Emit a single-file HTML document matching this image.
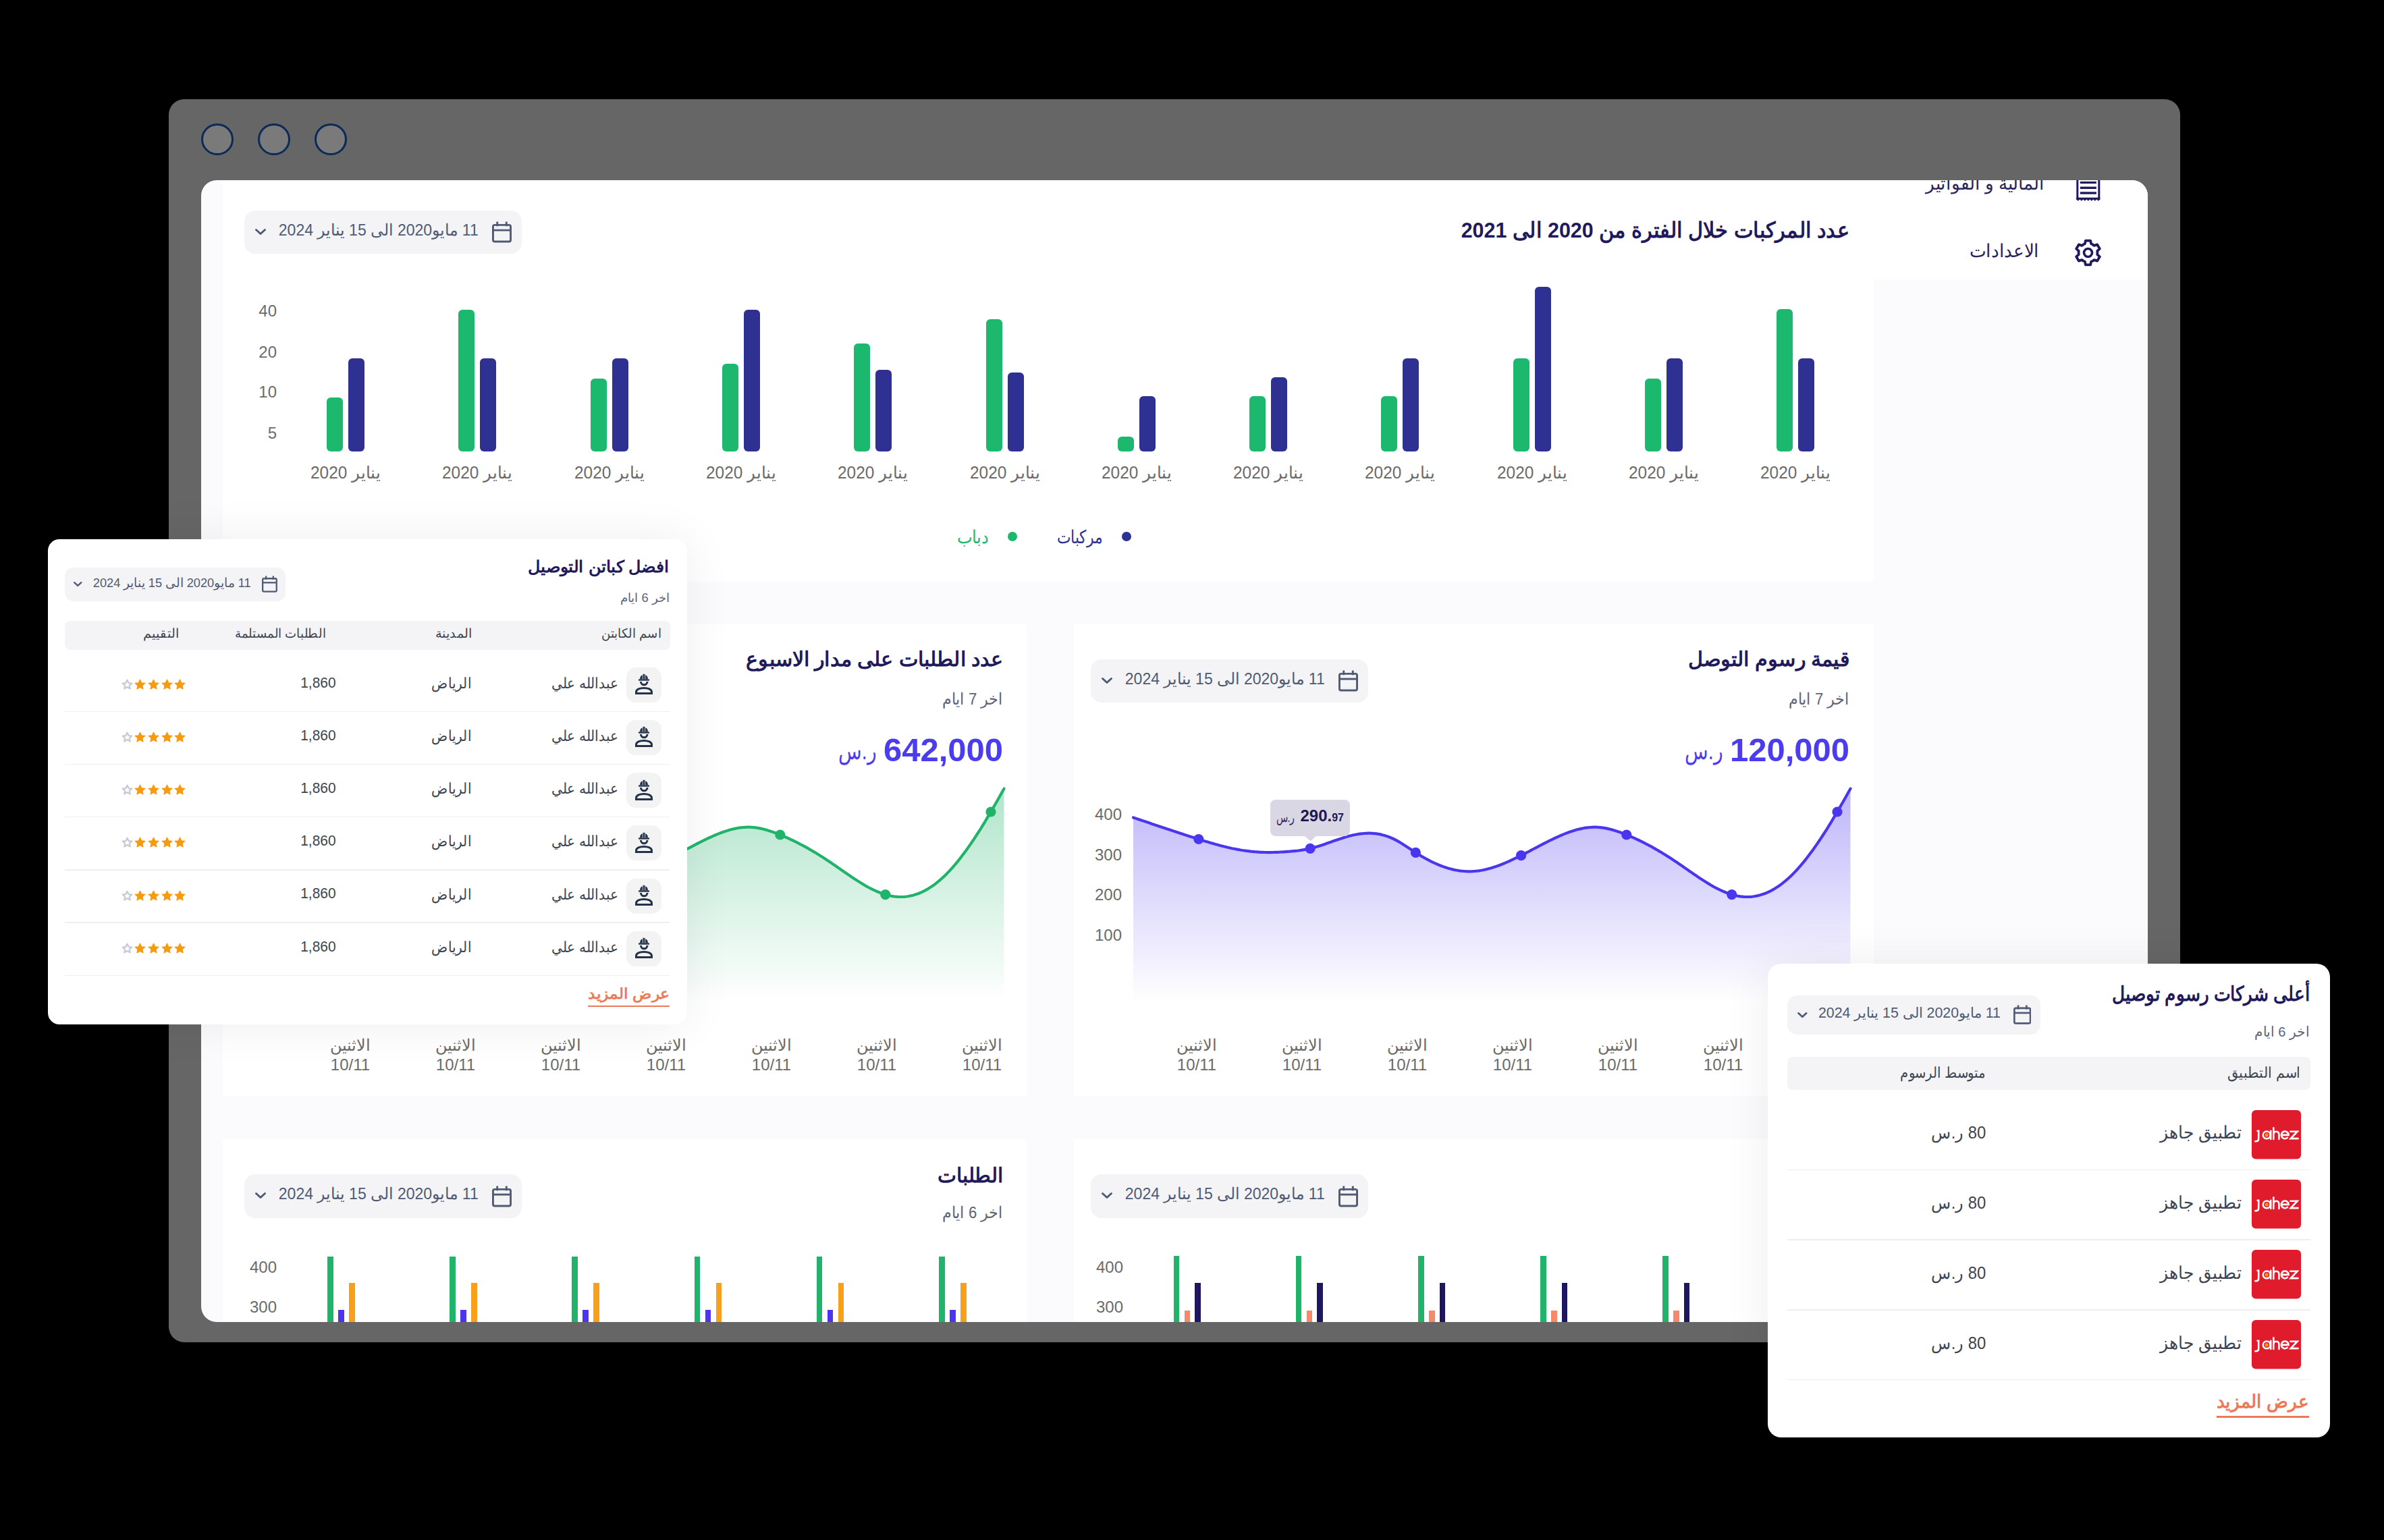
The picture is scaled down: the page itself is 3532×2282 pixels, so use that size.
<!DOCTYPE html><html><head><meta charset="utf-8"><style>html,body{margin:0;padding:0}body{width:3532px;height:2282px;background:#000;position:relative;overflow:hidden;font-family:'Liberation Sans', sans-serif}.t{position:absolute;white-space:nowrap;direction:rtl;unicode-bidi:plaintext}</style></head><body>
<div style="position:absolute;left:250.0px;top:147.0px;width:2980.0px;height:1842.0px;background:#666666;border-radius:23px;"></div>
<div style="position:absolute;left:298.2px;top:182.8px;width:41.6px;height:41.6px;border:3px solid #0b2a58;border-radius:50%;background:#7a7a7a"></div>
<div style="position:absolute;left:382.2px;top:182.8px;width:41.6px;height:41.6px;border:3px solid #0b2a58;border-radius:50%;background:#7a7a7a"></div>
<div style="position:absolute;left:466.2px;top:182.8px;width:41.6px;height:41.6px;border:3px solid #0b2a58;border-radius:50%;background:#7a7a7a"></div>
<div style="position:absolute;left:0;top:0;width:3532px;height:2282px;clip-path:inset(267px 350px 323px 298px round 23px);background:#fbfbfd">
<div style="position:absolute;left:2776.0px;top:267.0px;width:406.0px;height:147.0px;background:#ffffff;border-radius:0px;"></div>
<div style="position:absolute;left:330.0px;top:200.0px;width:2446.0px;height:662.0px;background:#ffffff;border-radius:0px;"></div>
<div style="position:absolute;left:330.0px;top:925.0px;width:1191.0px;height:699.0px;background:#ffffff;border-radius:0px;"></div>
<div style="position:absolute;left:1591.0px;top:925.0px;width:1185.0px;height:699.0px;background:#ffffff;border-radius:0px;"></div>
<div style="position:absolute;left:330.0px;top:1688.0px;width:1191.0px;height:412.0px;background:#ffffff;border-radius:0px;"></div>
<div style="position:absolute;left:1591.0px;top:1688.0px;width:1185.0px;height:412.0px;background:#ffffff;border-radius:0px;"></div>
<svg style="position:absolute;left:3074px;top:250px" width="40" height="50" viewBox="0 0 40 50"><rect x="2.3" y="0" width="3" height="46" fill="#1e1a5c"/><rect x="34.3" y="0" width="3" height="46" fill="#1e1a5c"/><path d="M2.3,42.8 H37.3 V45.6 L34.80,47.8 L32.30,45.6 L29.80,47.8 L27.30,45.6 L24.80,47.8 L22.30,45.6 L19.80,47.8 L17.30,45.6 L14.80,47.8 L12.30,45.6 L9.80,47.8 L7.30,45.6 L4.80,47.8 L2.30,45.6 Z" fill="#1e1a5c"/><rect x="7.8" y="18.9" width="24.1" height="3.2" fill="#1e1a5c"/><rect x="7.8" y="26.6" width="24.1" height="3.4" fill="#1e1a5c"/><rect x="7.8" y="34.3" width="24.1" height="3.4" fill="#1e1a5c"/></svg>
<div id="t1" class="t" style="right:503.0px;top:258.5px;font-size:27.0px;line-height:27.0px;color:#28245e;font-weight:normal;transform:scaleX(0.9723);transform-origin:right center;">المالية و الفواتير</div>
<svg style="position:absolute;left:3073px;top:354px" width="41" height="41" viewBox="0 0 41 41"><path d="M13.50,8.38 L15.83,7.30 L16.86,2.56 L24.14,2.56 L25.17,7.30 L27.50,8.38 L29.60,9.86 L34.21,8.38 L37.85,14.68 L34.26,17.94 L34.50,20.50 L34.26,23.06 L37.85,26.32 L34.21,32.62 L29.60,31.14 L27.50,32.62 L25.17,33.70 L24.14,38.44 L16.86,38.44 L15.83,33.70 L13.50,32.62 L11.40,31.14 L6.79,32.62 L3.15,26.32 L6.74,23.06 L6.50,20.50 L6.74,17.94 L3.15,14.68 L6.79,8.38 L11.40,9.86 Z" fill="none" stroke="#1e1a5c" stroke-width="3.8" stroke-linejoin="round"/><circle cx="20.5" cy="20.5" r="6" fill="none" stroke="#1e1a5c" stroke-width="3.6"/></svg>
<div id="t2" class="t" style="right:511.0px;top:358.5px;font-size:27.0px;line-height:27.0px;color:#28245e;font-weight:normal;transform:scaleX(0.9717);transform-origin:right center;">الاعدادات</div>
<div id="t3" class="t" style="right:792.0px;top:325.3px;font-size:32.0px;line-height:32.0px;color:#1e1a5c;font-weight:bold;transform:scaleX(0.9510);transform-origin:right center;">عدد المركبات خلال الفترة من 2020 الى 2021</div>
<div style="position:absolute;left:362.0px;top:312.0px;width:411.0px;height:64.0px;background:#f4f4f6;border-radius:16.0px;"></div>
<svg style="position:absolute;left:729.0px;top:328.0px" width="29.0" height="32.0" viewBox="0 0 30 32"><rect x="1.5" y="5" width="27" height="25.5" rx="2.5" fill="none" stroke="#4f5a75" stroke-width="3"/><line x1="1.5" y1="13" x2="28.5" y2="13" stroke="#4f5a75" stroke-width="3"/><line x1="8" y1="0" x2="8" y2="7" stroke="#4f5a75" stroke-width="3"/><line x1="22" y1="0" x2="22" y2="7" stroke="#4f5a75" stroke-width="3"/></svg>
<div id="t4" class="t" style="right:2823.5px;top:329.7px;font-size:23.5px;line-height:23.5px;color:#4f5a75;font-weight:normal;transform:scaleX(0.9809);transform-origin:right center;">11 مايو2020 الى 15 يناير 2024</div>
<svg style="position:absolute;left:378.0px;top:339.0px;overflow:visible" width="16.0" height="9.0" viewBox="0 0 16 9"><polyline points="1.5,1.5 8,7.5 14.5,1.5" fill="none" stroke="#4f5a75" stroke-width="3.0" stroke-linecap="round" stroke-linejoin="round"/></svg>
<div id="t5" class="t" style="right:3122.0px;top:449.4px;font-size:24.0px;line-height:24.0px;color:#6b6b6b;font-weight:normal;transform-origin:right center;">40</div>
<div id="t6" class="t" style="right:3122.0px;top:509.5px;font-size:24.0px;line-height:24.0px;color:#6b6b6b;font-weight:normal;transform-origin:right center;">20</div>
<div id="t7" class="t" style="right:3122.0px;top:569.4px;font-size:24.0px;line-height:24.0px;color:#6b6b6b;font-weight:normal;transform-origin:right center;">10</div>
<div id="t8" class="t" style="right:3122.0px;top:629.9px;font-size:24.0px;line-height:24.0px;color:#6b6b6b;font-weight:normal;transform-origin:right center;">5</div>
<div style="position:absolute;left:484.0px;top:588.6px;width:24.0px;height:80.4px;background:#1bb86e;border-radius:6px;"></div>
<div style="position:absolute;left:516.0px;top:531.4px;width:24.0px;height:137.6px;background:#2e3192;border-radius:6px;"></div>
<div id="t9" class="t" style="left:-488.0px;top:687.8px;font-size:25.0px;line-height:25.0px;color:#6b6b6b;font-weight:normal;width:2000px;text-align:center;transform:scaleX(0.9758);transform-origin:center center;"><span>يناير 2020</span></div>
<div style="position:absolute;left:679.3px;top:458.7px;width:24.0px;height:210.3px;background:#1bb86e;border-radius:6px;"></div>
<div style="position:absolute;left:711.3px;top:531.4px;width:24.0px;height:137.6px;background:#2e3192;border-radius:6px;"></div>
<div id="t10" class="t" style="left:-292.7px;top:687.8px;font-size:25.0px;line-height:25.0px;color:#6b6b6b;font-weight:normal;width:2000px;text-align:center;transform:scaleX(0.9758);transform-origin:center center;"><span>يناير 2020</span></div>
<div style="position:absolute;left:874.6px;top:561.0px;width:24.0px;height:108.0px;background:#1bb86e;border-radius:6px;"></div>
<div style="position:absolute;left:906.6px;top:531.4px;width:24.0px;height:137.6px;background:#2e3192;border-radius:6px;"></div>
<div id="t11" class="t" style="left:-97.4px;top:687.8px;font-size:25.0px;line-height:25.0px;color:#6b6b6b;font-weight:normal;width:2000px;text-align:center;transform:scaleX(0.9758);transform-origin:center center;"><span>يناير 2020</span></div>
<div style="position:absolute;left:1069.9px;top:538.7px;width:24.0px;height:130.3px;background:#1bb86e;border-radius:6px;"></div>
<div style="position:absolute;left:1101.9px;top:458.7px;width:24.0px;height:210.3px;background:#2e3192;border-radius:6px;"></div>
<div id="t12" class="t" style="left:97.9px;top:687.8px;font-size:25.0px;line-height:25.0px;color:#6b6b6b;font-weight:normal;width:2000px;text-align:center;transform:scaleX(0.9758);transform-origin:center center;"><span>يناير 2020</span></div>
<div style="position:absolute;left:1265.2px;top:508.8px;width:24.0px;height:160.2px;background:#1bb86e;border-radius:6px;"></div>
<div style="position:absolute;left:1297.2px;top:547.8px;width:24.0px;height:121.2px;background:#2e3192;border-radius:6px;"></div>
<div id="t13" class="t" style="left:293.2px;top:687.8px;font-size:25.0px;line-height:25.0px;color:#6b6b6b;font-weight:normal;width:2000px;text-align:center;transform:scaleX(0.9758);transform-origin:center center;"><span>يناير 2020</span></div>
<div style="position:absolute;left:1460.5px;top:473.0px;width:24.0px;height:196.0px;background:#1bb86e;border-radius:6px;"></div>
<div style="position:absolute;left:1492.5px;top:552.0px;width:24.0px;height:117.0px;background:#2e3192;border-radius:6px;"></div>
<div id="t14" class="t" style="left:488.5px;top:687.8px;font-size:25.0px;line-height:25.0px;color:#6b6b6b;font-weight:normal;width:2000px;text-align:center;transform:scaleX(0.9758);transform-origin:center center;"><span>يناير 2020</span></div>
<div style="position:absolute;left:1655.8px;top:646.5px;width:24.0px;height:22.5px;background:#1bb86e;border-radius:6px;"></div>
<div style="position:absolute;left:1687.8px;top:587.0px;width:24.0px;height:82.0px;background:#2e3192;border-radius:6px;"></div>
<div id="t15" class="t" style="left:683.8px;top:687.8px;font-size:25.0px;line-height:25.0px;color:#6b6b6b;font-weight:normal;width:2000px;text-align:center;transform:scaleX(0.9758);transform-origin:center center;"><span>يناير 2020</span></div>
<div style="position:absolute;left:1851.1px;top:587.0px;width:24.0px;height:82.0px;background:#1bb86e;border-radius:6px;"></div>
<div style="position:absolute;left:1883.1px;top:559.0px;width:24.0px;height:110.0px;background:#2e3192;border-radius:6px;"></div>
<div id="t16" class="t" style="left:879.1px;top:687.8px;font-size:25.0px;line-height:25.0px;color:#6b6b6b;font-weight:normal;width:2000px;text-align:center;transform:scaleX(0.9758);transform-origin:center center;"><span>يناير 2020</span></div>
<div style="position:absolute;left:2046.4px;top:587.0px;width:24.0px;height:82.0px;background:#1bb86e;border-radius:6px;"></div>
<div style="position:absolute;left:2078.4px;top:531.0px;width:24.0px;height:138.0px;background:#2e3192;border-radius:6px;"></div>
<div id="t17" class="t" style="left:1074.4px;top:687.8px;font-size:25.0px;line-height:25.0px;color:#6b6b6b;font-weight:normal;width:2000px;text-align:center;transform:scaleX(0.9758);transform-origin:center center;"><span>يناير 2020</span></div>
<div style="position:absolute;left:2241.7px;top:531.0px;width:24.0px;height:138.0px;background:#1bb86e;border-radius:6px;"></div>
<div style="position:absolute;left:2273.7px;top:424.7px;width:24.0px;height:244.3px;background:#2e3192;border-radius:6px;"></div>
<div id="t18" class="t" style="left:1269.7px;top:687.8px;font-size:25.0px;line-height:25.0px;color:#6b6b6b;font-weight:normal;width:2000px;text-align:center;transform:scaleX(0.9758);transform-origin:center center;"><span>يناير 2020</span></div>
<div style="position:absolute;left:2437.0px;top:560.7px;width:24.0px;height:108.3px;background:#1bb86e;border-radius:6px;"></div>
<div style="position:absolute;left:2469.0px;top:531.0px;width:24.0px;height:138.0px;background:#2e3192;border-radius:6px;"></div>
<div id="t19" class="t" style="left:1465.0px;top:687.8px;font-size:25.0px;line-height:25.0px;color:#6b6b6b;font-weight:normal;width:2000px;text-align:center;transform:scaleX(0.9758);transform-origin:center center;"><span>يناير 2020</span></div>
<div style="position:absolute;left:2632.3px;top:458.4px;width:24.0px;height:210.6px;background:#1bb86e;border-radius:6px;"></div>
<div style="position:absolute;left:2664.3px;top:531.0px;width:24.0px;height:138.0px;background:#2e3192;border-radius:6px;"></div>
<div id="t20" class="t" style="left:1660.3px;top:687.8px;font-size:25.0px;line-height:25.0px;color:#6b6b6b;font-weight:normal;width:2000px;text-align:center;transform:scaleX(0.9758);transform-origin:center center;"><span>يناير 2020</span></div>
<div style="position:absolute;left:1662px;top:788px;width:14px;height:14px;border-radius:50%;background:#2e3192"></div>
<div style="position:absolute;left:1493px;top:788px;width:14px;height:14px;border-radius:50%;background:#1bb86e"></div>
<div id="t21" class="t" style="right:1899.0px;top:782.5px;font-size:27.0px;line-height:27.0px;color:#2e3192;font-weight:normal;transform:scaleX(0.8072);transform-origin:right center;">مركبات</div>
<div id="t22" class="t" style="right:2067.0px;top:782.5px;font-size:27.0px;line-height:27.0px;color:#1bb86e;font-weight:normal;transform:scaleX(0.8868);transform-origin:right center;">دباب</div>
<div id="t23" class="t" style="right:792.0px;top:962.1px;font-size:30.0px;line-height:30.0px;color:#1e1a5c;font-weight:bold;transform:scaleX(1.0098);transform-origin:right center;">قيمة رسوم التوصل</div>
<div id="t24" class="t" style="right:792.0px;top:1023.9px;font-size:24.0px;line-height:24.0px;color:#5b6478;font-weight:normal;transform:scaleX(0.9212);transform-origin:right center;">اخر 7 ايام</div>
<div id="t25" class="t" style="right:792.0px;top:1086.6px;font-size:49.0px;line-height:49.0px;color:#4b3cf0;font-weight:bold;transform-origin:right center;">120,000</div>
<div id="t26" class="t" style="right:980.0px;top:1095.3px;font-size:36.0px;line-height:36.0px;color:#4b3cf0;font-weight:normal;transform:scaleX(0.7886);transform-origin:right center;">ر.س</div>
<div style="position:absolute;left:1616.0px;top:977.0px;width:411.0px;height:64.0px;background:#f4f4f6;border-radius:16.0px;"></div>
<svg style="position:absolute;left:1983.0px;top:993.0px" width="29.0" height="32.0" viewBox="0 0 30 32"><rect x="1.5" y="5" width="27" height="25.5" rx="2.5" fill="none" stroke="#4f5a75" stroke-width="3"/><line x1="1.5" y1="13" x2="28.5" y2="13" stroke="#4f5a75" stroke-width="3"/><line x1="8" y1="0" x2="8" y2="7" stroke="#4f5a75" stroke-width="3"/><line x1="22" y1="0" x2="22" y2="7" stroke="#4f5a75" stroke-width="3"/></svg>
<div id="t27" class="t" style="right:1569.5px;top:994.7px;font-size:23.5px;line-height:23.5px;color:#4f5a75;font-weight:normal;transform:scaleX(0.9809);transform-origin:right center;">11 مايو2020 الى 15 يناير 2024</div>
<svg style="position:absolute;left:1632.0px;top:1004.0px;overflow:visible" width="16.0" height="9.0" viewBox="0 0 16 9"><polyline points="1.5,1.5 8,7.5 14.5,1.5" fill="none" stroke="#4f5a75" stroke-width="3.0" stroke-linecap="round" stroke-linejoin="round"/></svg>
<div id="t28" class="t" style="right:1870.0px;top:1195.0px;font-size:24.0px;line-height:24.0px;color:#6b6b6b;font-weight:normal;transform-origin:right center;">400</div>
<div id="t29" class="t" style="right:1870.0px;top:1254.9px;font-size:24.0px;line-height:24.0px;color:#6b6b6b;font-weight:normal;transform-origin:right center;">300</div>
<div id="t30" class="t" style="right:1870.0px;top:1314.4px;font-size:24.0px;line-height:24.0px;color:#6b6b6b;font-weight:normal;transform-origin:right center;">200</div>
<div id="t31" class="t" style="right:1870.0px;top:1374.4px;font-size:24.0px;line-height:24.0px;color:#6b6b6b;font-weight:normal;transform-origin:right center;">100</div>
<div id="t32" class="t" style="left:773.0px;top:1536.9px;font-size:24.0px;line-height:24.0px;color:#6b6b6b;font-weight:normal;width:2000px;text-align:center;transform-origin:center center;"><span>الاثنين</span></div>
<div id="t33" class="t" style="left:773.0px;top:1565.9px;font-size:24.0px;line-height:24.0px;color:#6b6b6b;font-weight:normal;width:2000px;text-align:center;transform-origin:center center;"><span>10/11</span></div>
<div id="t34" class="t" style="left:929.0px;top:1536.9px;font-size:24.0px;line-height:24.0px;color:#6b6b6b;font-weight:normal;width:2000px;text-align:center;transform-origin:center center;"><span>الاثنين</span></div>
<div id="t35" class="t" style="left:929.0px;top:1565.9px;font-size:24.0px;line-height:24.0px;color:#6b6b6b;font-weight:normal;width:2000px;text-align:center;transform-origin:center center;"><span>10/11</span></div>
<div id="t36" class="t" style="left:1085.0px;top:1536.9px;font-size:24.0px;line-height:24.0px;color:#6b6b6b;font-weight:normal;width:2000px;text-align:center;transform-origin:center center;"><span>الاثنين</span></div>
<div id="t37" class="t" style="left:1085.0px;top:1565.9px;font-size:24.0px;line-height:24.0px;color:#6b6b6b;font-weight:normal;width:2000px;text-align:center;transform-origin:center center;"><span>10/11</span></div>
<div id="t38" class="t" style="left:1241.0px;top:1536.9px;font-size:24.0px;line-height:24.0px;color:#6b6b6b;font-weight:normal;width:2000px;text-align:center;transform-origin:center center;"><span>الاثنين</span></div>
<div id="t39" class="t" style="left:1241.0px;top:1565.9px;font-size:24.0px;line-height:24.0px;color:#6b6b6b;font-weight:normal;width:2000px;text-align:center;transform-origin:center center;"><span>10/11</span></div>
<div id="t40" class="t" style="left:1397.0px;top:1536.9px;font-size:24.0px;line-height:24.0px;color:#6b6b6b;font-weight:normal;width:2000px;text-align:center;transform-origin:center center;"><span>الاثنين</span></div>
<div id="t41" class="t" style="left:1397.0px;top:1565.9px;font-size:24.0px;line-height:24.0px;color:#6b6b6b;font-weight:normal;width:2000px;text-align:center;transform-origin:center center;"><span>10/11</span></div>
<div id="t42" class="t" style="left:1553.0px;top:1536.9px;font-size:24.0px;line-height:24.0px;color:#6b6b6b;font-weight:normal;width:2000px;text-align:center;transform-origin:center center;"><span>الاثنين</span></div>
<div id="t43" class="t" style="left:1553.0px;top:1565.9px;font-size:24.0px;line-height:24.0px;color:#6b6b6b;font-weight:normal;width:2000px;text-align:center;transform-origin:center center;"><span>10/11</span></div>
<div id="t44" class="t" style="left:1709.0px;top:1536.9px;font-size:24.0px;line-height:24.0px;color:#6b6b6b;font-weight:normal;width:2000px;text-align:center;transform-origin:center center;"><span>الاثنين</span></div>
<div id="t45" class="t" style="left:1709.0px;top:1565.9px;font-size:24.0px;line-height:24.0px;color:#6b6b6b;font-weight:normal;width:2000px;text-align:center;transform-origin:center center;"><span>10/11</span></div>
<div id="t46" class="t" style="right:2046.0px;top:962.1px;font-size:30.0px;line-height:30.0px;color:#1e1a5c;font-weight:bold;transform:scaleX(1.0070);transform-origin:right center;">عدد الطلبات على مدار الاسبوع</div>
<div id="t47" class="t" style="right:2046.0px;top:1023.9px;font-size:24.0px;line-height:24.0px;color:#5b6478;font-weight:normal;transform:scaleX(0.9212);transform-origin:right center;">اخر 7 ايام</div>
<div id="t48" class="t" style="right:2046.0px;top:1086.6px;font-size:49.0px;line-height:49.0px;color:#4b3cf0;font-weight:bold;transform-origin:right center;">642,000</div>
<div id="t49" class="t" style="right:2234.0px;top:1095.3px;font-size:36.0px;line-height:36.0px;color:#4b3cf0;font-weight:normal;transform:scaleX(0.7886);transform-origin:right center;">ر.س</div>
<div id="t50" class="t" style="left:-481.0px;top:1536.9px;font-size:24.0px;line-height:24.0px;color:#6b6b6b;font-weight:normal;width:2000px;text-align:center;transform-origin:center center;"><span>الاثنين</span></div>
<div id="t51" class="t" style="left:-481.0px;top:1565.9px;font-size:24.0px;line-height:24.0px;color:#6b6b6b;font-weight:normal;width:2000px;text-align:center;transform-origin:center center;"><span>10/11</span></div>
<div id="t52" class="t" style="left:-325.0px;top:1536.9px;font-size:24.0px;line-height:24.0px;color:#6b6b6b;font-weight:normal;width:2000px;text-align:center;transform-origin:center center;"><span>الاثنين</span></div>
<div id="t53" class="t" style="left:-325.0px;top:1565.9px;font-size:24.0px;line-height:24.0px;color:#6b6b6b;font-weight:normal;width:2000px;text-align:center;transform-origin:center center;"><span>10/11</span></div>
<div id="t54" class="t" style="left:-169.0px;top:1536.9px;font-size:24.0px;line-height:24.0px;color:#6b6b6b;font-weight:normal;width:2000px;text-align:center;transform-origin:center center;"><span>الاثنين</span></div>
<div id="t55" class="t" style="left:-169.0px;top:1565.9px;font-size:24.0px;line-height:24.0px;color:#6b6b6b;font-weight:normal;width:2000px;text-align:center;transform-origin:center center;"><span>10/11</span></div>
<div id="t56" class="t" style="left:-13.0px;top:1536.9px;font-size:24.0px;line-height:24.0px;color:#6b6b6b;font-weight:normal;width:2000px;text-align:center;transform-origin:center center;"><span>الاثنين</span></div>
<div id="t57" class="t" style="left:-13.0px;top:1565.9px;font-size:24.0px;line-height:24.0px;color:#6b6b6b;font-weight:normal;width:2000px;text-align:center;transform-origin:center center;"><span>10/11</span></div>
<div id="t58" class="t" style="left:143.0px;top:1536.9px;font-size:24.0px;line-height:24.0px;color:#6b6b6b;font-weight:normal;width:2000px;text-align:center;transform-origin:center center;"><span>الاثنين</span></div>
<div id="t59" class="t" style="left:143.0px;top:1565.9px;font-size:24.0px;line-height:24.0px;color:#6b6b6b;font-weight:normal;width:2000px;text-align:center;transform-origin:center center;"><span>10/11</span></div>
<div id="t60" class="t" style="left:299.0px;top:1536.9px;font-size:24.0px;line-height:24.0px;color:#6b6b6b;font-weight:normal;width:2000px;text-align:center;transform-origin:center center;"><span>الاثنين</span></div>
<div id="t61" class="t" style="left:299.0px;top:1565.9px;font-size:24.0px;line-height:24.0px;color:#6b6b6b;font-weight:normal;width:2000px;text-align:center;transform-origin:center center;"><span>10/11</span></div>
<div id="t62" class="t" style="left:455.0px;top:1536.9px;font-size:24.0px;line-height:24.0px;color:#6b6b6b;font-weight:normal;width:2000px;text-align:center;transform-origin:center center;"><span>الاثنين</span></div>
<div id="t63" class="t" style="left:455.0px;top:1565.9px;font-size:24.0px;line-height:24.0px;color:#6b6b6b;font-weight:normal;width:2000px;text-align:center;transform-origin:center center;"><span>10/11</span></div>
<svg style="position:absolute;left:0;top:0" width="3532" height="2282"><defs><linearGradient id="gp" gradientUnits="userSpaceOnUse" x1="0" y1="1168" x2="0" y2="1485"><stop offset="0" stop-color="#5a46f2" stop-opacity="0.40"/><stop offset="1" stop-color="#5a46f2" stop-opacity="0"/></linearGradient></defs><path d="M1679.0,1211.4 L1682.0,1212.4 L1685.0,1213.5 L1688.1,1214.5 L1691.1,1215.5 L1694.1,1216.6 L1697.2,1217.6 L1700.2,1218.6 L1703.2,1219.6 L1706.2,1220.7 L1709.2,1221.7 L1712.3,1222.7 L1715.3,1223.7 L1718.3,1224.7 L1721.3,1225.8 L1724.4,1226.8 L1727.4,1227.8 L1730.4,1228.8 L1733.5,1229.8 L1736.5,1230.8 L1739.5,1231.8 L1742.5,1232.8 L1745.5,1233.8 L1748.6,1234.8 L1751.6,1235.8 L1754.6,1236.8 L1757.6,1237.7 L1760.7,1238.7 L1763.7,1239.7 L1766.7,1240.6 L1769.8,1241.6 L1772.8,1242.6 L1775.8,1243.5 L1778.9,1244.5 L1782.0,1245.4 L1785.1,1246.4 L1788.2,1247.3 L1791.3,1248.3 L1794.4,1249.2 L1797.5,1250.1 L1800.6,1251.0 L1803.8,1251.8 L1806.9,1252.7 L1810.0,1253.5 L1813.1,1254.3 L1816.2,1255.0 L1819.3,1255.8 L1822.4,1256.5 L1825.5,1257.2 L1828.6,1257.8 L1831.6,1258.4 L1834.6,1258.9 L1837.7,1259.5 L1840.7,1260.0 L1843.7,1260.4 L1846.7,1260.8 L1849.7,1261.2 L1852.8,1261.6 L1855.8,1261.9 L1858.8,1262.2 L1861.8,1262.4 L1864.8,1262.6 L1867.9,1262.8 L1870.9,1262.9 L1873.9,1263.0 L1877.0,1263.1 L1880.1,1263.1 L1883.1,1263.1 L1886.2,1263.0 L1889.3,1262.9 L1892.4,1262.8 L1895.5,1262.7 L1898.6,1262.5 L1901.6,1262.3 L1904.7,1262.1 L1907.8,1261.9 L1910.8,1261.7 L1913.9,1261.4 L1916.9,1261.1 L1919.9,1260.8 L1922.9,1260.5 L1926.0,1260.1 L1929.0,1259.6 L1932.0,1259.1 L1935.0,1258.6 L1938.1,1258.0 L1941.1,1257.3 L1944.2,1256.5 L1947.2,1255.7 L1950.3,1254.8 L1953.3,1253.9 L1956.4,1252.9 L1959.5,1251.9 L1962.5,1250.9 L1965.6,1249.8 L1968.6,1248.7 L1971.7,1247.7 L1974.8,1246.6 L1977.8,1245.5 L1980.9,1244.4 L1983.9,1243.4 L1987.0,1242.4 L1990.1,1241.4 L1993.1,1240.5 L1996.2,1239.6 L1999.3,1238.8 L2002.4,1238.0 L2005.4,1237.3 L2008.5,1236.7 L2011.6,1236.1 L2014.6,1235.7 L2017.7,1235.3 L2020.8,1235.0 L2023.9,1234.8 L2026.9,1234.7 L2030.0,1234.7 L2033.0,1234.8 L2036.1,1235.1 L2039.1,1235.4 L2042.1,1235.9 L2045.2,1236.4 L2048.2,1237.2 L2051.2,1238.0 L2054.3,1238.9 L2057.3,1240.0 L2060.3,1241.2 L2063.4,1242.5 L2066.4,1244.0 L2069.5,1245.6 L2072.6,1247.4 L2075.7,1249.2 L2078.8,1251.2 L2081.9,1253.2 L2085.0,1255.2 L2088.1,1257.3 L2091.2,1259.3 L2094.3,1261.4 L2097.4,1263.4 L2100.5,1265.3 L2103.6,1267.2 L2106.6,1269.1 L2109.7,1270.8 L2112.8,1272.6 L2115.9,1274.2 L2118.9,1275.8 L2122.0,1277.3 L2125.1,1278.8 L2128.2,1280.2 L2131.2,1281.5 L2134.3,1282.7 L2137.4,1283.9 L2140.6,1285.0 L2143.7,1286.0 L2146.8,1286.9 L2150.0,1287.8 L2153.1,1288.6 L2156.2,1289.2 L2159.3,1289.8 L2162.5,1290.3 L2165.6,1290.7 L2168.7,1291.0 L2171.9,1291.2 L2175.0,1291.3 L2178.2,1291.3 L2181.4,1291.2 L2184.5,1291.0 L2187.7,1290.7 L2190.9,1290.3 L2194.1,1289.8 L2197.3,1289.2 L2200.5,1288.5 L2203.6,1287.7 L2206.8,1286.9 L2210.0,1286.0 L2213.1,1285.0 L2216.2,1284.0 L2219.3,1282.9 L2222.5,1281.7 L2225.6,1280.5 L2228.7,1279.3 L2231.8,1277.9 L2234.9,1276.6 L2238.0,1275.2 L2241.1,1273.7 L2244.3,1272.2 L2247.4,1270.7 L2250.5,1269.2 L2253.6,1267.6 L2256.7,1266.0 L2259.7,1264.5 L2262.8,1262.9 L2265.9,1261.3 L2268.9,1259.6 L2272.0,1258.0 L2275.1,1256.4 L2278.1,1254.8 L2281.2,1253.2 L2284.2,1251.6 L2287.3,1250.0 L2290.4,1248.5 L2293.4,1246.9 L2296.5,1245.4 L2299.6,1243.9 L2302.6,1242.4 L2305.7,1241.0 L2308.8,1239.6 L2311.9,1238.2 L2315.0,1236.9 L2318.1,1235.6 L2321.1,1234.4 L2324.2,1233.3 L2327.3,1232.2 L2330.4,1231.2 L2333.5,1230.2 L2336.6,1229.3 L2339.7,1228.6 L2342.8,1227.9 L2345.9,1227.2 L2349.0,1226.7 L2352.0,1226.3 L2355.1,1226.0 L2358.2,1225.8 L2361.3,1225.7 L2364.4,1225.7 L2367.4,1225.8 L2370.5,1226.1 L2373.5,1226.4 L2376.5,1226.9 L2379.5,1227.4 L2382.6,1228.1 L2385.6,1228.8 L2388.6,1229.6 L2391.6,1230.5 L2394.7,1231.4 L2397.7,1232.4 L2400.7,1233.5 L2403.7,1234.6 L2406.8,1235.8 L2409.8,1237.0 L2412.8,1238.2 L2415.8,1239.5 L2418.8,1240.8 L2421.8,1242.2 L2424.8,1243.6 L2427.8,1245.0 L2430.8,1246.4 L2433.8,1247.9 L2436.8,1249.5 L2439.8,1251.0 L2442.8,1252.6 L2445.9,1254.2 L2448.9,1255.9 L2451.9,1257.6 L2454.9,1259.3 L2457.9,1261.1 L2460.9,1262.8 L2463.9,1264.7 L2466.9,1266.5 L2469.9,1268.4 L2472.9,1270.3 L2475.9,1272.2 L2478.9,1274.2 L2481.9,1276.2 L2485.0,1278.3 L2488.1,1280.4 L2491.2,1282.5 L2494.3,1284.7 L2497.4,1286.9 L2500.5,1289.0 L2503.6,1291.2 L2506.7,1293.3 L2509.8,1295.5 L2512.9,1297.6 L2516.0,1299.7 L2519.1,1301.8 L2522.2,1303.8 L2525.4,1305.8 L2528.5,1307.7 L2531.6,1309.6 L2534.7,1311.5 L2537.8,1313.3 L2540.9,1315.0 L2544.0,1316.6 L2547.1,1318.2 L2550.2,1319.7 L2553.3,1321.0 L2556.4,1322.3 L2559.5,1323.5 L2562.6,1324.6 L2565.7,1325.6 L2568.9,1326.5 L2572.0,1327.2 L2575.2,1327.9 L2578.3,1328.4 L2581.5,1328.7 L2584.7,1329.0 L2587.8,1329.0 L2591.0,1329.0 L2594.1,1328.8 L2597.1,1328.5 L2600.2,1328.0 L2603.3,1327.4 L2606.4,1326.7 L2609.4,1325.8 L2612.5,1324.8 L2615.6,1323.7 L2618.7,1322.4 L2621.7,1321.0 L2624.8,1319.4 L2627.9,1317.7 L2630.9,1315.8 L2634.0,1313.8 L2637.1,1311.7 L2640.2,1309.4 L2643.2,1307.0 L2646.3,1304.4 L2649.3,1301.7 L2652.4,1298.9 L2655.4,1296.0 L2658.4,1292.9 L2661.4,1289.7 L2664.5,1286.3 L2667.5,1282.9 L2670.5,1279.3 L2673.6,1275.6 L2676.6,1271.8 L2679.6,1267.8 L2682.6,1263.8 L2685.7,1259.7 L2688.7,1255.4 L2691.7,1251.1 L2694.7,1246.7 L2697.8,1242.2 L2700.8,1237.5 L2703.8,1232.8 L2706.9,1228.1 L2709.9,1223.2 L2712.9,1218.3 L2715.9,1213.2 L2719.0,1208.2 L2722.0,1203.0 L2725.2,1197.4 L2728.5,1191.7 L2731.8,1186.0 L2735.0,1180.3 L2738.2,1174.5 L2741.5,1168.7 L2741.5,1490 L1679.0,1490 Z" fill="url(#gp)"/><path d="M1679.0,1211.4 L1682.0,1212.4 L1685.0,1213.5 L1688.1,1214.5 L1691.1,1215.5 L1694.1,1216.6 L1697.2,1217.6 L1700.2,1218.6 L1703.2,1219.6 L1706.2,1220.7 L1709.2,1221.7 L1712.3,1222.7 L1715.3,1223.7 L1718.3,1224.7 L1721.3,1225.8 L1724.4,1226.8 L1727.4,1227.8 L1730.4,1228.8 L1733.5,1229.8 L1736.5,1230.8 L1739.5,1231.8 L1742.5,1232.8 L1745.5,1233.8 L1748.6,1234.8 L1751.6,1235.8 L1754.6,1236.8 L1757.6,1237.7 L1760.7,1238.7 L1763.7,1239.7 L1766.7,1240.6 L1769.8,1241.6 L1772.8,1242.6 L1775.8,1243.5 L1778.9,1244.5 L1782.0,1245.4 L1785.1,1246.4 L1788.2,1247.3 L1791.3,1248.3 L1794.4,1249.2 L1797.5,1250.1 L1800.6,1251.0 L1803.8,1251.8 L1806.9,1252.7 L1810.0,1253.5 L1813.1,1254.3 L1816.2,1255.0 L1819.3,1255.8 L1822.4,1256.5 L1825.5,1257.2 L1828.6,1257.8 L1831.6,1258.4 L1834.6,1258.9 L1837.7,1259.5 L1840.7,1260.0 L1843.7,1260.4 L1846.7,1260.8 L1849.7,1261.2 L1852.8,1261.6 L1855.8,1261.9 L1858.8,1262.2 L1861.8,1262.4 L1864.8,1262.6 L1867.9,1262.8 L1870.9,1262.9 L1873.9,1263.0 L1877.0,1263.1 L1880.1,1263.1 L1883.1,1263.1 L1886.2,1263.0 L1889.3,1262.9 L1892.4,1262.8 L1895.5,1262.7 L1898.6,1262.5 L1901.6,1262.3 L1904.7,1262.1 L1907.8,1261.9 L1910.8,1261.7 L1913.9,1261.4 L1916.9,1261.1 L1919.9,1260.8 L1922.9,1260.5 L1926.0,1260.1 L1929.0,1259.6 L1932.0,1259.1 L1935.0,1258.6 L1938.1,1258.0 L1941.1,1257.3 L1944.2,1256.5 L1947.2,1255.7 L1950.3,1254.8 L1953.3,1253.9 L1956.4,1252.9 L1959.5,1251.9 L1962.5,1250.9 L1965.6,1249.8 L1968.6,1248.7 L1971.7,1247.7 L1974.8,1246.6 L1977.8,1245.5 L1980.9,1244.4 L1983.9,1243.4 L1987.0,1242.4 L1990.1,1241.4 L1993.1,1240.5 L1996.2,1239.6 L1999.3,1238.8 L2002.4,1238.0 L2005.4,1237.3 L2008.5,1236.7 L2011.6,1236.1 L2014.6,1235.7 L2017.7,1235.3 L2020.8,1235.0 L2023.9,1234.8 L2026.9,1234.7 L2030.0,1234.7 L2033.0,1234.8 L2036.1,1235.1 L2039.1,1235.4 L2042.1,1235.9 L2045.2,1236.4 L2048.2,1237.2 L2051.2,1238.0 L2054.3,1238.9 L2057.3,1240.0 L2060.3,1241.2 L2063.4,1242.5 L2066.4,1244.0 L2069.5,1245.6 L2072.6,1247.4 L2075.7,1249.2 L2078.8,1251.2 L2081.9,1253.2 L2085.0,1255.2 L2088.1,1257.3 L2091.2,1259.3 L2094.3,1261.4 L2097.4,1263.4 L2100.5,1265.3 L2103.6,1267.2 L2106.6,1269.1 L2109.7,1270.8 L2112.8,1272.6 L2115.9,1274.2 L2118.9,1275.8 L2122.0,1277.3 L2125.1,1278.8 L2128.2,1280.2 L2131.2,1281.5 L2134.3,1282.7 L2137.4,1283.9 L2140.6,1285.0 L2143.7,1286.0 L2146.8,1286.9 L2150.0,1287.8 L2153.1,1288.6 L2156.2,1289.2 L2159.3,1289.8 L2162.5,1290.3 L2165.6,1290.7 L2168.7,1291.0 L2171.9,1291.2 L2175.0,1291.3 L2178.2,1291.3 L2181.4,1291.2 L2184.5,1291.0 L2187.7,1290.7 L2190.9,1290.3 L2194.1,1289.8 L2197.3,1289.2 L2200.5,1288.5 L2203.6,1287.7 L2206.8,1286.9 L2210.0,1286.0 L2213.1,1285.0 L2216.2,1284.0 L2219.3,1282.9 L2222.5,1281.7 L2225.6,1280.5 L2228.7,1279.3 L2231.8,1277.9 L2234.9,1276.6 L2238.0,1275.2 L2241.1,1273.7 L2244.3,1272.2 L2247.4,1270.7 L2250.5,1269.2 L2253.6,1267.6 L2256.7,1266.0 L2259.7,1264.5 L2262.8,1262.9 L2265.9,1261.3 L2268.9,1259.6 L2272.0,1258.0 L2275.1,1256.4 L2278.1,1254.8 L2281.2,1253.2 L2284.2,1251.6 L2287.3,1250.0 L2290.4,1248.5 L2293.4,1246.9 L2296.5,1245.4 L2299.6,1243.9 L2302.6,1242.4 L2305.7,1241.0 L2308.8,1239.6 L2311.9,1238.2 L2315.0,1236.9 L2318.1,1235.6 L2321.1,1234.4 L2324.2,1233.3 L2327.3,1232.2 L2330.4,1231.2 L2333.5,1230.2 L2336.6,1229.3 L2339.7,1228.6 L2342.8,1227.9 L2345.9,1227.2 L2349.0,1226.7 L2352.0,1226.3 L2355.1,1226.0 L2358.2,1225.8 L2361.3,1225.7 L2364.4,1225.7 L2367.4,1225.8 L2370.5,1226.1 L2373.5,1226.4 L2376.5,1226.9 L2379.5,1227.4 L2382.6,1228.1 L2385.6,1228.8 L2388.6,1229.6 L2391.6,1230.5 L2394.7,1231.4 L2397.7,1232.4 L2400.7,1233.5 L2403.7,1234.6 L2406.8,1235.8 L2409.8,1237.0 L2412.8,1238.2 L2415.8,1239.5 L2418.8,1240.8 L2421.8,1242.2 L2424.8,1243.6 L2427.8,1245.0 L2430.8,1246.4 L2433.8,1247.9 L2436.8,1249.5 L2439.8,1251.0 L2442.8,1252.6 L2445.9,1254.2 L2448.9,1255.9 L2451.9,1257.6 L2454.9,1259.3 L2457.9,1261.1 L2460.9,1262.8 L2463.9,1264.7 L2466.9,1266.5 L2469.9,1268.4 L2472.9,1270.3 L2475.9,1272.2 L2478.9,1274.2 L2481.9,1276.2 L2485.0,1278.3 L2488.1,1280.4 L2491.2,1282.5 L2494.3,1284.7 L2497.4,1286.9 L2500.5,1289.0 L2503.6,1291.2 L2506.7,1293.3 L2509.8,1295.5 L2512.9,1297.6 L2516.0,1299.7 L2519.1,1301.8 L2522.2,1303.8 L2525.4,1305.8 L2528.5,1307.7 L2531.6,1309.6 L2534.7,1311.5 L2537.8,1313.3 L2540.9,1315.0 L2544.0,1316.6 L2547.1,1318.2 L2550.2,1319.7 L2553.3,1321.0 L2556.4,1322.3 L2559.5,1323.5 L2562.6,1324.6 L2565.7,1325.6 L2568.9,1326.5 L2572.0,1327.2 L2575.2,1327.9 L2578.3,1328.4 L2581.5,1328.7 L2584.7,1329.0 L2587.8,1329.0 L2591.0,1329.0 L2594.1,1328.8 L2597.1,1328.5 L2600.2,1328.0 L2603.3,1327.4 L2606.4,1326.7 L2609.4,1325.8 L2612.5,1324.8 L2615.6,1323.7 L2618.7,1322.4 L2621.7,1321.0 L2624.8,1319.4 L2627.9,1317.7 L2630.9,1315.8 L2634.0,1313.8 L2637.1,1311.7 L2640.2,1309.4 L2643.2,1307.0 L2646.3,1304.4 L2649.3,1301.7 L2652.4,1298.9 L2655.4,1296.0 L2658.4,1292.9 L2661.4,1289.7 L2664.5,1286.3 L2667.5,1282.9 L2670.5,1279.3 L2673.6,1275.6 L2676.6,1271.8 L2679.6,1267.8 L2682.6,1263.8 L2685.7,1259.7 L2688.7,1255.4 L2691.7,1251.1 L2694.7,1246.7 L2697.8,1242.2 L2700.8,1237.5 L2703.8,1232.8 L2706.9,1228.1 L2709.9,1223.2 L2712.9,1218.3 L2715.9,1213.2 L2719.0,1208.2 L2722.0,1203.0 L2725.2,1197.4 L2728.5,1191.7 L2731.8,1186.0 L2735.0,1180.3 L2738.2,1174.5 L2741.5,1168.7" fill="none" stroke="#4a36ef" stroke-width="4.2" stroke-linecap="round"/>
<circle cx="1775.8" cy="1243.5" r="7.6" fill="#4a36ef"/>
<circle cx="1941.1" cy="1257.3" r="7.6" fill="#4a36ef"/>
<circle cx="2097.4" cy="1263.4" r="7.6" fill="#4a36ef"/>
<circle cx="2253.6" cy="1267.6" r="7.6" fill="#4a36ef"/>
<circle cx="2409.8" cy="1237.0" r="7.6" fill="#4a36ef"/>
<circle cx="2565.7" cy="1325.6" r="7.6" fill="#4a36ef"/>
<circle cx="2722.0" cy="1203.0" r="7.6" fill="#4a36ef"/>
</svg>
<svg style="position:absolute;left:0;top:0" width="3532" height="2282"><defs><linearGradient id="gg" gradientUnits="userSpaceOnUse" x1="0" y1="1168" x2="0" y2="1485"><stop offset="0" stop-color="#1fb46a" stop-opacity="0.35"/><stop offset="1" stop-color="#1fb46a" stop-opacity="0"/></linearGradient></defs><path d="M425.0,1211.4 L428.0,1212.4 L431.1,1213.5 L434.1,1214.5 L437.1,1215.5 L440.1,1216.6 L443.1,1217.6 L446.2,1218.6 L449.2,1219.6 L452.2,1220.7 L455.2,1221.7 L458.3,1222.7 L461.3,1223.7 L464.3,1224.7 L467.3,1225.8 L470.4,1226.8 L473.4,1227.8 L476.4,1228.8 L479.4,1229.8 L482.5,1230.8 L485.5,1231.8 L488.5,1232.8 L491.5,1233.8 L494.6,1234.8 L497.6,1235.8 L500.6,1236.8 L503.6,1237.7 L506.7,1238.7 L509.7,1239.7 L512.7,1240.6 L515.8,1241.6 L518.8,1242.6 L521.8,1243.5 L524.9,1244.5 L528.0,1245.4 L531.1,1246.4 L534.2,1247.3 L537.3,1248.3 L540.4,1249.2 L543.5,1250.1 L546.6,1251.0 L549.8,1251.8 L552.9,1252.7 L556.0,1253.5 L559.1,1254.3 L562.2,1255.0 L565.3,1255.8 L568.4,1256.5 L571.5,1257.2 L574.6,1257.8 L577.6,1258.4 L580.6,1258.9 L583.7,1259.5 L586.7,1260.0 L589.7,1260.4 L592.7,1260.8 L595.7,1261.2 L598.8,1261.6 L601.8,1261.9 L604.8,1262.2 L607.8,1262.4 L610.8,1262.6 L613.9,1262.8 L616.9,1262.9 L619.9,1263.0 L623.0,1263.1 L626.1,1263.1 L629.1,1263.1 L632.2,1263.0 L635.3,1262.9 L638.4,1262.8 L641.5,1262.7 L644.6,1262.5 L647.6,1262.3 L650.7,1262.1 L653.8,1261.9 L656.8,1261.7 L659.9,1261.4 L662.9,1261.1 L665.9,1260.8 L668.9,1260.5 L672.0,1260.1 L675.0,1259.6 L678.0,1259.1 L681.0,1258.6 L684.1,1258.0 L687.1,1257.3 L690.2,1256.5 L693.2,1255.7 L696.3,1254.8 L699.3,1253.9 L702.4,1252.9 L705.5,1251.9 L708.5,1250.9 L711.6,1249.8 L714.6,1248.7 L717.7,1247.7 L720.8,1246.6 L723.8,1245.5 L726.9,1244.4 L729.9,1243.4 L733.0,1242.4 L736.1,1241.4 L739.1,1240.5 L742.2,1239.6 L745.3,1238.8 L748.4,1238.0 L751.4,1237.3 L754.5,1236.7 L757.6,1236.1 L760.6,1235.7 L763.7,1235.3 L766.8,1235.0 L769.9,1234.8 L772.9,1234.7 L776.0,1234.7 L779.0,1234.8 L782.1,1235.1 L785.1,1235.4 L788.1,1235.9 L791.2,1236.4 L794.2,1237.2 L797.2,1238.0 L800.3,1238.9 L803.3,1240.0 L806.3,1241.2 L809.4,1242.5 L812.4,1244.0 L815.5,1245.6 L818.6,1247.4 L821.7,1249.2 L824.8,1251.2 L827.9,1253.2 L831.0,1255.2 L834.1,1257.3 L837.2,1259.3 L840.3,1261.4 L843.4,1263.4 L846.5,1265.3 L849.6,1267.2 L852.6,1269.1 L855.7,1270.8 L858.8,1272.6 L861.9,1274.2 L864.9,1275.8 L868.0,1277.3 L871.1,1278.8 L874.2,1280.2 L877.2,1281.5 L880.3,1282.7 L883.4,1283.9 L886.6,1285.0 L889.7,1286.0 L892.8,1286.9 L896.0,1287.8 L899.1,1288.6 L902.2,1289.2 L905.3,1289.8 L908.5,1290.3 L911.6,1290.7 L914.7,1291.0 L917.9,1291.2 L921.0,1291.3 L924.2,1291.3 L927.4,1291.2 L930.5,1291.0 L933.7,1290.7 L936.9,1290.3 L940.1,1289.8 L943.3,1289.2 L946.5,1288.5 L949.6,1287.7 L952.8,1286.9 L956.0,1286.0 L959.1,1285.0 L962.2,1284.0 L965.3,1282.9 L968.5,1281.7 L971.6,1280.5 L974.7,1279.3 L977.8,1277.9 L980.9,1276.6 L984.0,1275.2 L987.1,1273.7 L990.3,1272.2 L993.4,1270.7 L996.5,1269.2 L999.6,1267.6 L1002.7,1266.0 L1005.7,1264.5 L1008.8,1262.9 L1011.9,1261.3 L1014.9,1259.6 L1018.0,1258.0 L1021.1,1256.4 L1024.1,1254.8 L1027.2,1253.2 L1030.2,1251.6 L1033.3,1250.0 L1036.4,1248.5 L1039.4,1246.9 L1042.5,1245.4 L1045.6,1243.9 L1048.6,1242.4 L1051.7,1241.0 L1054.8,1239.6 L1057.9,1238.2 L1061.0,1236.9 L1064.1,1235.6 L1067.1,1234.4 L1070.2,1233.3 L1073.3,1232.2 L1076.4,1231.2 L1079.5,1230.2 L1082.6,1229.3 L1085.7,1228.6 L1088.8,1227.9 L1091.9,1227.2 L1095.0,1226.7 L1098.0,1226.3 L1101.1,1226.0 L1104.2,1225.8 L1107.3,1225.7 L1110.4,1225.7 L1113.4,1225.8 L1116.5,1226.1 L1119.5,1226.4 L1122.5,1226.9 L1125.5,1227.4 L1128.6,1228.1 L1131.6,1228.8 L1134.6,1229.6 L1137.6,1230.5 L1140.7,1231.4 L1143.7,1232.4 L1146.7,1233.5 L1149.7,1234.6 L1152.8,1235.8 L1155.8,1237.0 L1158.8,1238.2 L1161.8,1239.5 L1164.8,1240.8 L1167.8,1242.2 L1170.8,1243.6 L1173.8,1245.0 L1176.8,1246.4 L1179.8,1247.9 L1182.8,1249.5 L1185.8,1251.0 L1188.8,1252.6 L1191.9,1254.2 L1194.9,1255.9 L1197.9,1257.6 L1200.9,1259.3 L1203.9,1261.1 L1206.9,1262.8 L1209.9,1264.7 L1212.9,1266.5 L1215.9,1268.4 L1218.9,1270.3 L1221.9,1272.2 L1224.9,1274.2 L1227.9,1276.2 L1231.0,1278.3 L1234.1,1280.4 L1237.2,1282.5 L1240.3,1284.7 L1243.4,1286.9 L1246.5,1289.0 L1249.6,1291.2 L1252.7,1293.3 L1255.8,1295.5 L1258.9,1297.6 L1262.0,1299.7 L1265.1,1301.8 L1268.2,1303.8 L1271.4,1305.8 L1274.5,1307.7 L1277.6,1309.6 L1280.7,1311.5 L1283.8,1313.3 L1286.9,1315.0 L1290.0,1316.6 L1293.1,1318.2 L1296.2,1319.7 L1299.3,1321.0 L1302.4,1322.3 L1305.5,1323.5 L1308.6,1324.6 L1311.7,1325.6 L1314.9,1326.5 L1318.0,1327.2 L1321.2,1327.9 L1324.3,1328.4 L1327.5,1328.7 L1330.7,1329.0 L1333.8,1329.0 L1337.0,1329.0 L1340.1,1328.8 L1343.1,1328.5 L1346.2,1328.0 L1349.3,1327.4 L1352.4,1326.7 L1355.4,1325.8 L1358.5,1324.8 L1361.6,1323.7 L1364.7,1322.4 L1367.7,1321.0 L1370.8,1319.4 L1373.9,1317.7 L1376.9,1315.8 L1380.0,1313.8 L1383.1,1311.7 L1386.2,1309.4 L1389.2,1307.0 L1392.3,1304.4 L1395.3,1301.7 L1398.4,1298.9 L1401.4,1296.0 L1404.4,1292.9 L1407.4,1289.7 L1410.5,1286.3 L1413.5,1282.9 L1416.5,1279.3 L1419.6,1275.6 L1422.6,1271.8 L1425.6,1267.8 L1428.6,1263.8 L1431.7,1259.7 L1434.7,1255.4 L1437.7,1251.1 L1440.7,1246.7 L1443.8,1242.2 L1446.8,1237.5 L1449.8,1232.8 L1452.9,1228.1 L1455.9,1223.2 L1458.9,1218.3 L1461.9,1213.2 L1465.0,1208.2 L1468.0,1203.0 L1471.2,1197.4 L1474.5,1191.7 L1477.8,1186.0 L1481.0,1180.3 L1484.2,1174.5 L1487.5,1168.7 L1487.5,1490 L425.0,1490 Z" fill="url(#gg)"/><path d="M425.0,1211.4 L428.0,1212.4 L431.1,1213.5 L434.1,1214.5 L437.1,1215.5 L440.1,1216.6 L443.1,1217.6 L446.2,1218.6 L449.2,1219.6 L452.2,1220.7 L455.2,1221.7 L458.3,1222.7 L461.3,1223.7 L464.3,1224.7 L467.3,1225.8 L470.4,1226.8 L473.4,1227.8 L476.4,1228.8 L479.4,1229.8 L482.5,1230.8 L485.5,1231.8 L488.5,1232.8 L491.5,1233.8 L494.6,1234.8 L497.6,1235.8 L500.6,1236.8 L503.6,1237.7 L506.7,1238.7 L509.7,1239.7 L512.7,1240.6 L515.8,1241.6 L518.8,1242.6 L521.8,1243.5 L524.9,1244.5 L528.0,1245.4 L531.1,1246.4 L534.2,1247.3 L537.3,1248.3 L540.4,1249.2 L543.5,1250.1 L546.6,1251.0 L549.8,1251.8 L552.9,1252.7 L556.0,1253.5 L559.1,1254.3 L562.2,1255.0 L565.3,1255.8 L568.4,1256.5 L571.5,1257.2 L574.6,1257.8 L577.6,1258.4 L580.6,1258.9 L583.7,1259.5 L586.7,1260.0 L589.7,1260.4 L592.7,1260.8 L595.7,1261.2 L598.8,1261.6 L601.8,1261.9 L604.8,1262.2 L607.8,1262.4 L610.8,1262.6 L613.9,1262.8 L616.9,1262.9 L619.9,1263.0 L623.0,1263.1 L626.1,1263.1 L629.1,1263.1 L632.2,1263.0 L635.3,1262.9 L638.4,1262.8 L641.5,1262.7 L644.6,1262.5 L647.6,1262.3 L650.7,1262.1 L653.8,1261.9 L656.8,1261.7 L659.9,1261.4 L662.9,1261.1 L665.9,1260.8 L668.9,1260.5 L672.0,1260.1 L675.0,1259.6 L678.0,1259.1 L681.0,1258.6 L684.1,1258.0 L687.1,1257.3 L690.2,1256.5 L693.2,1255.7 L696.3,1254.8 L699.3,1253.9 L702.4,1252.9 L705.5,1251.9 L708.5,1250.9 L711.6,1249.8 L714.6,1248.7 L717.7,1247.7 L720.8,1246.6 L723.8,1245.5 L726.9,1244.4 L729.9,1243.4 L733.0,1242.4 L736.1,1241.4 L739.1,1240.5 L742.2,1239.6 L745.3,1238.8 L748.4,1238.0 L751.4,1237.3 L754.5,1236.7 L757.6,1236.1 L760.6,1235.7 L763.7,1235.3 L766.8,1235.0 L769.9,1234.8 L772.9,1234.7 L776.0,1234.7 L779.0,1234.8 L782.1,1235.1 L785.1,1235.4 L788.1,1235.9 L791.2,1236.4 L794.2,1237.2 L797.2,1238.0 L800.3,1238.9 L803.3,1240.0 L806.3,1241.2 L809.4,1242.5 L812.4,1244.0 L815.5,1245.6 L818.6,1247.4 L821.7,1249.2 L824.8,1251.2 L827.9,1253.2 L831.0,1255.2 L834.1,1257.3 L837.2,1259.3 L840.3,1261.4 L843.4,1263.4 L846.5,1265.3 L849.6,1267.2 L852.6,1269.1 L855.7,1270.8 L858.8,1272.6 L861.9,1274.2 L864.9,1275.8 L868.0,1277.3 L871.1,1278.8 L874.2,1280.2 L877.2,1281.5 L880.3,1282.7 L883.4,1283.9 L886.6,1285.0 L889.7,1286.0 L892.8,1286.9 L896.0,1287.8 L899.1,1288.6 L902.2,1289.2 L905.3,1289.8 L908.5,1290.3 L911.6,1290.7 L914.7,1291.0 L917.9,1291.2 L921.0,1291.3 L924.2,1291.3 L927.4,1291.2 L930.5,1291.0 L933.7,1290.7 L936.9,1290.3 L940.1,1289.8 L943.3,1289.2 L946.5,1288.5 L949.6,1287.7 L952.8,1286.9 L956.0,1286.0 L959.1,1285.0 L962.2,1284.0 L965.3,1282.9 L968.5,1281.7 L971.6,1280.5 L974.7,1279.3 L977.8,1277.9 L980.9,1276.6 L984.0,1275.2 L987.1,1273.7 L990.3,1272.2 L993.4,1270.7 L996.5,1269.2 L999.6,1267.6 L1002.7,1266.0 L1005.7,1264.5 L1008.8,1262.9 L1011.9,1261.3 L1014.9,1259.6 L1018.0,1258.0 L1021.1,1256.4 L1024.1,1254.8 L1027.2,1253.2 L1030.2,1251.6 L1033.3,1250.0 L1036.4,1248.5 L1039.4,1246.9 L1042.5,1245.4 L1045.6,1243.9 L1048.6,1242.4 L1051.7,1241.0 L1054.8,1239.6 L1057.9,1238.2 L1061.0,1236.9 L1064.1,1235.6 L1067.1,1234.4 L1070.2,1233.3 L1073.3,1232.2 L1076.4,1231.2 L1079.5,1230.2 L1082.6,1229.3 L1085.7,1228.6 L1088.8,1227.9 L1091.9,1227.2 L1095.0,1226.7 L1098.0,1226.3 L1101.1,1226.0 L1104.2,1225.8 L1107.3,1225.7 L1110.4,1225.7 L1113.4,1225.8 L1116.5,1226.1 L1119.5,1226.4 L1122.5,1226.9 L1125.5,1227.4 L1128.6,1228.1 L1131.6,1228.8 L1134.6,1229.6 L1137.6,1230.5 L1140.7,1231.4 L1143.7,1232.4 L1146.7,1233.5 L1149.7,1234.6 L1152.8,1235.8 L1155.8,1237.0 L1158.8,1238.2 L1161.8,1239.5 L1164.8,1240.8 L1167.8,1242.2 L1170.8,1243.6 L1173.8,1245.0 L1176.8,1246.4 L1179.8,1247.9 L1182.8,1249.5 L1185.8,1251.0 L1188.8,1252.6 L1191.9,1254.2 L1194.9,1255.9 L1197.9,1257.6 L1200.9,1259.3 L1203.9,1261.1 L1206.9,1262.8 L1209.9,1264.7 L1212.9,1266.5 L1215.9,1268.4 L1218.9,1270.3 L1221.9,1272.2 L1224.9,1274.2 L1227.9,1276.2 L1231.0,1278.3 L1234.1,1280.4 L1237.2,1282.5 L1240.3,1284.7 L1243.4,1286.9 L1246.5,1289.0 L1249.6,1291.2 L1252.7,1293.3 L1255.8,1295.5 L1258.9,1297.6 L1262.0,1299.7 L1265.1,1301.8 L1268.2,1303.8 L1271.4,1305.8 L1274.5,1307.7 L1277.6,1309.6 L1280.7,1311.5 L1283.8,1313.3 L1286.9,1315.0 L1290.0,1316.6 L1293.1,1318.2 L1296.2,1319.7 L1299.3,1321.0 L1302.4,1322.3 L1305.5,1323.5 L1308.6,1324.6 L1311.7,1325.6 L1314.9,1326.5 L1318.0,1327.2 L1321.2,1327.9 L1324.3,1328.4 L1327.5,1328.7 L1330.7,1329.0 L1333.8,1329.0 L1337.0,1329.0 L1340.1,1328.8 L1343.1,1328.5 L1346.2,1328.0 L1349.3,1327.4 L1352.4,1326.7 L1355.4,1325.8 L1358.5,1324.8 L1361.6,1323.7 L1364.7,1322.4 L1367.7,1321.0 L1370.8,1319.4 L1373.9,1317.7 L1376.9,1315.8 L1380.0,1313.8 L1383.1,1311.7 L1386.2,1309.4 L1389.2,1307.0 L1392.3,1304.4 L1395.3,1301.7 L1398.4,1298.9 L1401.4,1296.0 L1404.4,1292.9 L1407.4,1289.7 L1410.5,1286.3 L1413.5,1282.9 L1416.5,1279.3 L1419.6,1275.6 L1422.6,1271.8 L1425.6,1267.8 L1428.6,1263.8 L1431.7,1259.7 L1434.7,1255.4 L1437.7,1251.1 L1440.7,1246.7 L1443.8,1242.2 L1446.8,1237.5 L1449.8,1232.8 L1452.9,1228.1 L1455.9,1223.2 L1458.9,1218.3 L1461.9,1213.2 L1465.0,1208.2 L1468.0,1203.0 L1471.2,1197.4 L1474.5,1191.7 L1477.8,1186.0 L1481.0,1180.3 L1484.2,1174.5 L1487.5,1168.7" fill="none" stroke="#1fb46a" stroke-width="4.2" stroke-linecap="round"/>
<circle cx="521.8" cy="1243.5" r="7.6" fill="#1fb46a"/>
<circle cx="687.1" cy="1257.3" r="7.6" fill="#1fb46a"/>
<circle cx="843.4" cy="1263.4" r="7.6" fill="#1fb46a"/>
<circle cx="999.6" cy="1267.6" r="7.6" fill="#1fb46a"/>
<circle cx="1155.8" cy="1237.0" r="7.6" fill="#1fb46a"/>
<circle cx="1311.7" cy="1325.6" r="7.6" fill="#1fb46a"/>
<circle cx="1468.0" cy="1203.0" r="7.6" fill="#1fb46a"/>
</svg>
<div style="position:absolute;left:1882.0px;top:1185.4px;width:118.0px;height:53.9px;background:#dad7e5;border-radius:8px;"></div>
<svg style="position:absolute;left:1930px;top:1238px" width="23" height="10"><polygon points="2,0 21,0 11.5,8.5" fill="#dad7e5"/></svg>
<div id="t64" class="t" style="right:1541.0px;top:1197.3px;font-size:24.0px;line-height:24.0px;color:#1e1853;font-weight:bold;transform-origin:right center;direction:ltr;">290.<span style="font-size:16px">97</span></div>
<div id="t65" class="t" style="right:1613.0px;top:1201.4px;font-size:20.0px;line-height:20.0px;color:#2b2563;font-weight:normal;transform:scaleX(0.7077);transform-origin:right center;">ر.س</div>
<div id="t66" class="t" style="right:2046.0px;top:1727.1px;font-size:30.0px;line-height:30.0px;color:#1e1a5c;font-weight:bold;transform:scaleX(0.9898);transform-origin:right center;">الطلبات</div>
<div id="t67" class="t" style="right:2046.0px;top:1784.9px;font-size:24.0px;line-height:24.0px;color:#5b6478;font-weight:normal;transform:scaleX(0.9212);transform-origin:right center;">اخر 6 ايام</div>
<div style="position:absolute;left:362.0px;top:1740.0px;width:411.0px;height:65.0px;background:#f4f4f6;border-radius:16.0px;"></div>
<svg style="position:absolute;left:729.0px;top:1756.5px" width="29.0" height="32.0" viewBox="0 0 30 32"><rect x="1.5" y="5" width="27" height="25.5" rx="2.5" fill="none" stroke="#4f5a75" stroke-width="3"/><line x1="1.5" y1="13" x2="28.5" y2="13" stroke="#4f5a75" stroke-width="3"/><line x1="8" y1="0" x2="8" y2="7" stroke="#4f5a75" stroke-width="3"/><line x1="22" y1="0" x2="22" y2="7" stroke="#4f5a75" stroke-width="3"/></svg>
<div id="t68" class="t" style="right:2823.5px;top:1757.7px;font-size:23.5px;line-height:23.5px;color:#4f5a75;font-weight:normal;transform:scaleX(0.9809);transform-origin:right center;">11 مايو2020 الى 15 يناير 2024</div>
<svg style="position:absolute;left:378.0px;top:1767.0px;overflow:visible" width="16.0" height="9.0" viewBox="0 0 16 9"><polyline points="1.5,1.5 8,7.5 14.5,1.5" fill="none" stroke="#4f5a75" stroke-width="3.0" stroke-linecap="round" stroke-linejoin="round"/></svg>
<div style="position:absolute;left:1616.0px;top:1740.0px;width:411.0px;height:65.0px;background:#f4f4f6;border-radius:16.0px;"></div>
<svg style="position:absolute;left:1983.0px;top:1756.5px" width="29.0" height="32.0" viewBox="0 0 30 32"><rect x="1.5" y="5" width="27" height="25.5" rx="2.5" fill="none" stroke="#4f5a75" stroke-width="3"/><line x1="1.5" y1="13" x2="28.5" y2="13" stroke="#4f5a75" stroke-width="3"/><line x1="8" y1="0" x2="8" y2="7" stroke="#4f5a75" stroke-width="3"/><line x1="22" y1="0" x2="22" y2="7" stroke="#4f5a75" stroke-width="3"/></svg>
<div id="t69" class="t" style="right:1569.5px;top:1757.7px;font-size:23.5px;line-height:23.5px;color:#4f5a75;font-weight:normal;transform:scaleX(0.9809);transform-origin:right center;">11 مايو2020 الى 15 يناير 2024</div>
<svg style="position:absolute;left:1632.0px;top:1767.0px;overflow:visible" width="16.0" height="9.0" viewBox="0 0 16 9"><polyline points="1.5,1.5 8,7.5 14.5,1.5" fill="none" stroke="#4f5a75" stroke-width="3.0" stroke-linecap="round" stroke-linejoin="round"/></svg>
<div id="t70" class="t" style="right:3122.0px;top:1865.5px;font-size:24.0px;line-height:24.0px;color:#6b6b6b;font-weight:normal;transform-origin:right center;">400</div>
<div id="t71" class="t" style="right:3122.0px;top:1925.4px;font-size:24.0px;line-height:24.0px;color:#6b6b6b;font-weight:normal;transform-origin:right center;">300</div>
<div id="t72" class="t" style="right:1868.0px;top:1865.5px;font-size:24.0px;line-height:24.0px;color:#6b6b6b;font-weight:normal;transform-origin:right center;">400</div>
<div id="t73" class="t" style="right:1868.0px;top:1925.4px;font-size:24.0px;line-height:24.0px;color:#6b6b6b;font-weight:normal;transform-origin:right center;">300</div>
<div style="position:absolute;left:485.0px;top:1862.0px;width:8.5px;height:98.0px;background:#1fb46a;border-radius:0px;"></div>
<div style="position:absolute;left:501.0px;top:1941.0px;width:8.5px;height:19.0px;background:#4b35f0;border-radius:0px;"></div>
<div style="position:absolute;left:517.0px;top:1901.0px;width:8.5px;height:59.0px;background:#f8a01a;border-radius:0px;"></div>
<div style="position:absolute;left:666.2px;top:1862.0px;width:8.5px;height:98.0px;background:#1fb46a;border-radius:0px;"></div>
<div style="position:absolute;left:682.2px;top:1941.0px;width:8.5px;height:19.0px;background:#4b35f0;border-radius:0px;"></div>
<div style="position:absolute;left:698.2px;top:1901.0px;width:8.5px;height:59.0px;background:#f8a01a;border-radius:0px;"></div>
<div style="position:absolute;left:847.4px;top:1862.0px;width:8.5px;height:98.0px;background:#1fb46a;border-radius:0px;"></div>
<div style="position:absolute;left:863.4px;top:1941.0px;width:8.5px;height:19.0px;background:#4b35f0;border-radius:0px;"></div>
<div style="position:absolute;left:879.4px;top:1901.0px;width:8.5px;height:59.0px;background:#f8a01a;border-radius:0px;"></div>
<div style="position:absolute;left:1028.6px;top:1862.0px;width:8.5px;height:98.0px;background:#1fb46a;border-radius:0px;"></div>
<div style="position:absolute;left:1044.6px;top:1941.0px;width:8.5px;height:19.0px;background:#4b35f0;border-radius:0px;"></div>
<div style="position:absolute;left:1060.6px;top:1901.0px;width:8.5px;height:59.0px;background:#f8a01a;border-radius:0px;"></div>
<div style="position:absolute;left:1209.8px;top:1862.0px;width:8.5px;height:98.0px;background:#1fb46a;border-radius:0px;"></div>
<div style="position:absolute;left:1225.8px;top:1941.0px;width:8.5px;height:19.0px;background:#4b35f0;border-radius:0px;"></div>
<div style="position:absolute;left:1241.8px;top:1901.0px;width:8.5px;height:59.0px;background:#f8a01a;border-radius:0px;"></div>
<div style="position:absolute;left:1391.0px;top:1862.0px;width:8.5px;height:98.0px;background:#1fb46a;border-radius:0px;"></div>
<div style="position:absolute;left:1407.0px;top:1941.0px;width:8.5px;height:19.0px;background:#4b35f0;border-radius:0px;"></div>
<div style="position:absolute;left:1423.0px;top:1901.0px;width:8.5px;height:59.0px;background:#f8a01a;border-radius:0px;"></div>
<div style="position:absolute;left:1738.6px;top:1861.0px;width:8.5px;height:99.0px;background:#1fb46a;border-radius:0px;"></div>
<div style="position:absolute;left:1754.6px;top:1941.5px;width:8.5px;height:18.5px;background:#f5896a;border-radius:0px;"></div>
<div style="position:absolute;left:1770.1px;top:1901.0px;width:8.5px;height:59.0px;background:#1f1660;border-radius:0px;"></div>
<div style="position:absolute;left:1919.8px;top:1861.0px;width:8.5px;height:99.0px;background:#1fb46a;border-radius:0px;"></div>
<div style="position:absolute;left:1935.8px;top:1941.5px;width:8.5px;height:18.5px;background:#f5896a;border-radius:0px;"></div>
<div style="position:absolute;left:1951.3px;top:1901.0px;width:8.5px;height:59.0px;background:#1f1660;border-radius:0px;"></div>
<div style="position:absolute;left:2101.0px;top:1861.0px;width:8.5px;height:99.0px;background:#1fb46a;border-radius:0px;"></div>
<div style="position:absolute;left:2117.0px;top:1941.5px;width:8.5px;height:18.5px;background:#f5896a;border-radius:0px;"></div>
<div style="position:absolute;left:2132.5px;top:1901.0px;width:8.5px;height:59.0px;background:#1f1660;border-radius:0px;"></div>
<div style="position:absolute;left:2282.2px;top:1861.0px;width:8.5px;height:99.0px;background:#1fb46a;border-radius:0px;"></div>
<div style="position:absolute;left:2298.2px;top:1941.5px;width:8.5px;height:18.5px;background:#f5896a;border-radius:0px;"></div>
<div style="position:absolute;left:2313.7px;top:1901.0px;width:8.5px;height:59.0px;background:#1f1660;border-radius:0px;"></div>
<div style="position:absolute;left:2463.4px;top:1861.0px;width:8.5px;height:99.0px;background:#1fb46a;border-radius:0px;"></div>
<div style="position:absolute;left:2479.4px;top:1941.5px;width:8.5px;height:18.5px;background:#f5896a;border-radius:0px;"></div>
<div style="position:absolute;left:2494.9px;top:1901.0px;width:8.5px;height:59.0px;background:#1f1660;border-radius:0px;"></div>
<div style="position:absolute;left:2644.6px;top:1861.0px;width:8.5px;height:99.0px;background:#1fb46a;border-radius:0px;"></div>
<div style="position:absolute;left:2660.6px;top:1941.5px;width:8.5px;height:18.5px;background:#f5896a;border-radius:0px;"></div>
<div style="position:absolute;left:2676.1px;top:1901.0px;width:8.5px;height:59.0px;background:#1f1660;border-radius:0px;"></div>
</div>
<div style="position:absolute;left:71px;top:799px;width:947px;height:719px;background:#fff;border-radius:17px;box-shadow:0 0 70px rgba(20,20,60,0.07)"></div>
<div id="t74" class="t" style="right:2540.4px;top:827.9px;font-size:24.0px;line-height:24.0px;color:#1e1a5c;font-weight:bold;transform:scaleX(1.0537);transform-origin:right center;">افضل كباتن التوصيل</div>
<div id="t75" class="t" style="right:2540.0px;top:876.7px;font-size:18.0px;line-height:18.0px;color:#5b6478;font-weight:normal;transform:scaleX(1.0132);transform-origin:right center;">اخر 6 ايام</div>
<div style="position:absolute;left:96.0px;top:841.0px;width:327.0px;height:50.0px;background:#f4f4f6;border-radius:12.64px;"></div>
<svg style="position:absolute;left:388.2px;top:853.4px" width="22.9" height="25.3" viewBox="0 0 30 32"><rect x="1.5" y="5" width="27" height="25.5" rx="2.5" fill="none" stroke="#4f5a75" stroke-width="3"/><line x1="1.5" y1="13" x2="28.5" y2="13" stroke="#4f5a75" stroke-width="3"/><line x1="8" y1="0" x2="8" y2="7" stroke="#4f5a75" stroke-width="3"/><line x1="22" y1="0" x2="22" y2="7" stroke="#4f5a75" stroke-width="3"/></svg>
<div id="t76" class="t" style="right:3160.0px;top:855.0px;font-size:18.6px;line-height:18.6px;color:#4f5a75;font-weight:normal;transform:scaleX(0.9800);transform-origin:right center;">11 مايو2020 الى 15 يناير 2024</div>
<svg style="position:absolute;left:108.6px;top:862.3px;overflow:visible" width="12.6" height="7.1" viewBox="0 0 16 9"><polyline points="1.5,1.5 8,7.5 14.5,1.5" fill="none" stroke="#4f5a75" stroke-width="3.0" stroke-linecap="round" stroke-linejoin="round"/></svg>
<div style="position:absolute;left:96.0px;top:920.3px;width:896.6px;height:43.0px;background:#f4f4f6;border-radius:8px;"></div>
<div id="t77" class="t" style="right:2553.0px;top:928.5px;font-size:19.0px;line-height:19.0px;color:#3b4453;font-weight:normal;transform:scaleX(0.9536);transform-origin:right center;">اسم الكابتن</div>
<div id="t78" class="t" style="right:2833.0px;top:928.5px;font-size:19.0px;line-height:19.0px;color:#3b4453;font-weight:normal;transform:scaleX(1.0189);transform-origin:right center;">المدينة</div>
<div id="t79" class="t" style="right:3050.0px;top:928.5px;font-size:19.0px;line-height:19.0px;color:#3b4453;font-weight:normal;transform:scaleX(0.9552);transform-origin:right center;">الطلبات المستلمة</div>
<div id="t80" class="t" style="right:3267.0px;top:928.5px;font-size:19.0px;line-height:19.0px;color:#3b4453;font-weight:normal;transform:scaleX(1.0192);transform-origin:right center;">التقييم</div>
<div style="position:absolute;left:928.0px;top:988.7px;width:52.0px;height:52.0px;background:#f3f3f4;border-radius:14px;"></div>
<svg style="position:absolute;left:940px;top:998.2px" width="28" height="32" viewBox="0 0 28 32"><rect x="6" y="8.4" width="16" height="2.3" fill="#253349"/><path d="M8,8.4 C8,5 9.6,2.8 11.8,2.2 V8.4 Z" fill="#253349"/><path d="M20,8.4 C20,5 18.4,2.8 16.2,2.2 V8.4 Z" fill="#253349"/><rect x="12.6" y="0.8" width="2.8" height="7.8" fill="#253349"/><path d="M9.4,12 A4.8,4.8 0 0 0 19,12" fill="none" stroke="#253349" stroke-width="3"/><path d="M2.5,29.6 V27.5 C2.5,23.5 8,21.4 14,21.4 C20,21.4 25.5,23.5 25.5,27.5 V29.6 Z" fill="none" stroke="#253349" stroke-width="3"/></svg>
<div id="t81" class="t" style="right:2616.0px;top:1001.8px;font-size:22.0px;line-height:22.0px;color:#3b4453;font-weight:normal;transform:scaleX(0.9156);transform-origin:right center;">عبدالله علي</div>
<div id="t82" class="t" style="right:2834.4px;top:1001.8px;font-size:22.0px;line-height:22.0px;color:#3b4453;font-weight:normal;transform:scaleX(0.9077);transform-origin:right center;">الرياض</div>
<div id="t83" class="t" style="right:3034.5px;top:1000.6px;font-size:21.8px;line-height:21.8px;color:#3b4453;font-weight:normal;transform:scaleX(0.9588);transform-origin:right center;">1,860</div>
<svg style="position:absolute;left:179.6px;top:1005.7px" width="17" height="17" viewBox="0 0 24 24"><path d="M12,2.5 L14.9,8.6 L21.5,9.3 L16.6,13.8 L18,20.4 L12,17 L6,20.4 L7.4,13.8 L2.5,9.3 L9.1,8.6 Z" fill="none" stroke="#c6cbd6" stroke-width="3.2" stroke-linejoin="round"/></svg>
<svg style="position:absolute;left:199.3px;top:1005.7px" width="17" height="17" viewBox="0 0 24 24"><path d="M12,1.5 L15.1,8.2 L22.5,9 L17,14 L18.5,21.3 L12,17.6 L5.5,21.3 L7,14 L1.5,9 L8.9,8.2 Z" fill="#f79a0e" stroke="#f79a0e" stroke-width="1.5" stroke-linejoin="round"/></svg>
<svg style="position:absolute;left:219.0px;top:1005.7px" width="17" height="17" viewBox="0 0 24 24"><path d="M12,1.5 L15.1,8.2 L22.5,9 L17,14 L18.5,21.3 L12,17.6 L5.5,21.3 L7,14 L1.5,9 L8.9,8.2 Z" fill="#f79a0e" stroke="#f79a0e" stroke-width="1.5" stroke-linejoin="round"/></svg>
<svg style="position:absolute;left:238.7px;top:1005.7px" width="17" height="17" viewBox="0 0 24 24"><path d="M12,1.5 L15.1,8.2 L22.5,9 L17,14 L18.5,21.3 L12,17.6 L5.5,21.3 L7,14 L1.5,9 L8.9,8.2 Z" fill="#f79a0e" stroke="#f79a0e" stroke-width="1.5" stroke-linejoin="round"/></svg>
<svg style="position:absolute;left:258.4px;top:1005.7px" width="17" height="17" viewBox="0 0 24 24"><path d="M12,1.5 L15.1,8.2 L22.5,9 L17,14 L18.5,21.3 L12,17.6 L5.5,21.3 L7,14 L1.5,9 L8.9,8.2 Z" fill="#f79a0e" stroke="#f79a0e" stroke-width="1.5" stroke-linejoin="round"/></svg>
<div style="position:absolute;left:96.0px;top:1053.5px;width:896.0px;height:1.5px;background:#eceef1;border-radius:0px;"></div>
<div style="position:absolute;left:928.0px;top:1066.9px;width:52.0px;height:52.0px;background:#f3f3f4;border-radius:14px;"></div>
<svg style="position:absolute;left:940px;top:1076.4px" width="28" height="32" viewBox="0 0 28 32"><rect x="6" y="8.4" width="16" height="2.3" fill="#253349"/><path d="M8,8.4 C8,5 9.6,2.8 11.8,2.2 V8.4 Z" fill="#253349"/><path d="M20,8.4 C20,5 18.4,2.8 16.2,2.2 V8.4 Z" fill="#253349"/><rect x="12.6" y="0.8" width="2.8" height="7.8" fill="#253349"/><path d="M9.4,12 A4.8,4.8 0 0 0 19,12" fill="none" stroke="#253349" stroke-width="3"/><path d="M2.5,29.6 V27.5 C2.5,23.5 8,21.4 14,21.4 C20,21.4 25.5,23.5 25.5,27.5 V29.6 Z" fill="none" stroke="#253349" stroke-width="3"/></svg>
<div id="t84" class="t" style="right:2616.0px;top:1080.0px;font-size:22.0px;line-height:22.0px;color:#3b4453;font-weight:normal;transform:scaleX(0.9156);transform-origin:right center;">عبدالله علي</div>
<div id="t85" class="t" style="right:2834.4px;top:1080.0px;font-size:22.0px;line-height:22.0px;color:#3b4453;font-weight:normal;transform:scaleX(0.9077);transform-origin:right center;">الرياض</div>
<div id="t86" class="t" style="right:3034.5px;top:1078.8px;font-size:21.8px;line-height:21.8px;color:#3b4453;font-weight:normal;transform:scaleX(0.9588);transform-origin:right center;">1,860</div>
<svg style="position:absolute;left:179.6px;top:1083.9px" width="17" height="17" viewBox="0 0 24 24"><path d="M12,2.5 L14.9,8.6 L21.5,9.3 L16.6,13.8 L18,20.4 L12,17 L6,20.4 L7.4,13.8 L2.5,9.3 L9.1,8.6 Z" fill="none" stroke="#c6cbd6" stroke-width="3.2" stroke-linejoin="round"/></svg>
<svg style="position:absolute;left:199.3px;top:1083.9px" width="17" height="17" viewBox="0 0 24 24"><path d="M12,1.5 L15.1,8.2 L22.5,9 L17,14 L18.5,21.3 L12,17.6 L5.5,21.3 L7,14 L1.5,9 L8.9,8.2 Z" fill="#f79a0e" stroke="#f79a0e" stroke-width="1.5" stroke-linejoin="round"/></svg>
<svg style="position:absolute;left:219.0px;top:1083.9px" width="17" height="17" viewBox="0 0 24 24"><path d="M12,1.5 L15.1,8.2 L22.5,9 L17,14 L18.5,21.3 L12,17.6 L5.5,21.3 L7,14 L1.5,9 L8.9,8.2 Z" fill="#f79a0e" stroke="#f79a0e" stroke-width="1.5" stroke-linejoin="round"/></svg>
<svg style="position:absolute;left:238.7px;top:1083.9px" width="17" height="17" viewBox="0 0 24 24"><path d="M12,1.5 L15.1,8.2 L22.5,9 L17,14 L18.5,21.3 L12,17.6 L5.5,21.3 L7,14 L1.5,9 L8.9,8.2 Z" fill="#f79a0e" stroke="#f79a0e" stroke-width="1.5" stroke-linejoin="round"/></svg>
<svg style="position:absolute;left:258.4px;top:1083.9px" width="17" height="17" viewBox="0 0 24 24"><path d="M12,1.5 L15.1,8.2 L22.5,9 L17,14 L18.5,21.3 L12,17.6 L5.5,21.3 L7,14 L1.5,9 L8.9,8.2 Z" fill="#f79a0e" stroke="#f79a0e" stroke-width="1.5" stroke-linejoin="round"/></svg>
<div style="position:absolute;left:96.0px;top:1131.7px;width:896.0px;height:1.5px;background:#eceef1;border-radius:0px;"></div>
<div style="position:absolute;left:928.0px;top:1145.1px;width:52.0px;height:52.0px;background:#f3f3f4;border-radius:14px;"></div>
<svg style="position:absolute;left:940px;top:1154.6px" width="28" height="32" viewBox="0 0 28 32"><rect x="6" y="8.4" width="16" height="2.3" fill="#253349"/><path d="M8,8.4 C8,5 9.6,2.8 11.8,2.2 V8.4 Z" fill="#253349"/><path d="M20,8.4 C20,5 18.4,2.8 16.2,2.2 V8.4 Z" fill="#253349"/><rect x="12.6" y="0.8" width="2.8" height="7.8" fill="#253349"/><path d="M9.4,12 A4.8,4.8 0 0 0 19,12" fill="none" stroke="#253349" stroke-width="3"/><path d="M2.5,29.6 V27.5 C2.5,23.5 8,21.4 14,21.4 C20,21.4 25.5,23.5 25.5,27.5 V29.6 Z" fill="none" stroke="#253349" stroke-width="3"/></svg>
<div id="t87" class="t" style="right:2616.0px;top:1158.2px;font-size:22.0px;line-height:22.0px;color:#3b4453;font-weight:normal;transform:scaleX(0.9156);transform-origin:right center;">عبدالله علي</div>
<div id="t88" class="t" style="right:2834.4px;top:1158.2px;font-size:22.0px;line-height:22.0px;color:#3b4453;font-weight:normal;transform:scaleX(0.9077);transform-origin:right center;">الرياض</div>
<div id="t89" class="t" style="right:3034.5px;top:1157.0px;font-size:21.8px;line-height:21.8px;color:#3b4453;font-weight:normal;transform:scaleX(0.9588);transform-origin:right center;">1,860</div>
<svg style="position:absolute;left:179.6px;top:1162.1px" width="17" height="17" viewBox="0 0 24 24"><path d="M12,2.5 L14.9,8.6 L21.5,9.3 L16.6,13.8 L18,20.4 L12,17 L6,20.4 L7.4,13.8 L2.5,9.3 L9.1,8.6 Z" fill="none" stroke="#c6cbd6" stroke-width="3.2" stroke-linejoin="round"/></svg>
<svg style="position:absolute;left:199.3px;top:1162.1px" width="17" height="17" viewBox="0 0 24 24"><path d="M12,1.5 L15.1,8.2 L22.5,9 L17,14 L18.5,21.3 L12,17.6 L5.5,21.3 L7,14 L1.5,9 L8.9,8.2 Z" fill="#f79a0e" stroke="#f79a0e" stroke-width="1.5" stroke-linejoin="round"/></svg>
<svg style="position:absolute;left:219.0px;top:1162.1px" width="17" height="17" viewBox="0 0 24 24"><path d="M12,1.5 L15.1,8.2 L22.5,9 L17,14 L18.5,21.3 L12,17.6 L5.5,21.3 L7,14 L1.5,9 L8.9,8.2 Z" fill="#f79a0e" stroke="#f79a0e" stroke-width="1.5" stroke-linejoin="round"/></svg>
<svg style="position:absolute;left:238.7px;top:1162.1px" width="17" height="17" viewBox="0 0 24 24"><path d="M12,1.5 L15.1,8.2 L22.5,9 L17,14 L18.5,21.3 L12,17.6 L5.5,21.3 L7,14 L1.5,9 L8.9,8.2 Z" fill="#f79a0e" stroke="#f79a0e" stroke-width="1.5" stroke-linejoin="round"/></svg>
<svg style="position:absolute;left:258.4px;top:1162.1px" width="17" height="17" viewBox="0 0 24 24"><path d="M12,1.5 L15.1,8.2 L22.5,9 L17,14 L18.5,21.3 L12,17.6 L5.5,21.3 L7,14 L1.5,9 L8.9,8.2 Z" fill="#f79a0e" stroke="#f79a0e" stroke-width="1.5" stroke-linejoin="round"/></svg>
<div style="position:absolute;left:96.0px;top:1209.9px;width:896.0px;height:1.5px;background:#eceef1;border-radius:0px;"></div>
<div style="position:absolute;left:928.0px;top:1223.3px;width:52.0px;height:52.0px;background:#f3f3f4;border-radius:14px;"></div>
<svg style="position:absolute;left:940px;top:1232.8px" width="28" height="32" viewBox="0 0 28 32"><rect x="6" y="8.4" width="16" height="2.3" fill="#253349"/><path d="M8,8.4 C8,5 9.6,2.8 11.8,2.2 V8.4 Z" fill="#253349"/><path d="M20,8.4 C20,5 18.4,2.8 16.2,2.2 V8.4 Z" fill="#253349"/><rect x="12.6" y="0.8" width="2.8" height="7.8" fill="#253349"/><path d="M9.4,12 A4.8,4.8 0 0 0 19,12" fill="none" stroke="#253349" stroke-width="3"/><path d="M2.5,29.6 V27.5 C2.5,23.5 8,21.4 14,21.4 C20,21.4 25.5,23.5 25.5,27.5 V29.6 Z" fill="none" stroke="#253349" stroke-width="3"/></svg>
<div id="t90" class="t" style="right:2616.0px;top:1236.4px;font-size:22.0px;line-height:22.0px;color:#3b4453;font-weight:normal;transform:scaleX(0.9156);transform-origin:right center;">عبدالله علي</div>
<div id="t91" class="t" style="right:2834.4px;top:1236.4px;font-size:22.0px;line-height:22.0px;color:#3b4453;font-weight:normal;transform:scaleX(0.9077);transform-origin:right center;">الرياض</div>
<div id="t92" class="t" style="right:3034.5px;top:1235.2px;font-size:21.8px;line-height:21.8px;color:#3b4453;font-weight:normal;transform:scaleX(0.9588);transform-origin:right center;">1,860</div>
<svg style="position:absolute;left:179.6px;top:1240.3px" width="17" height="17" viewBox="0 0 24 24"><path d="M12,2.5 L14.9,8.6 L21.5,9.3 L16.6,13.8 L18,20.4 L12,17 L6,20.4 L7.4,13.8 L2.5,9.3 L9.1,8.6 Z" fill="none" stroke="#c6cbd6" stroke-width="3.2" stroke-linejoin="round"/></svg>
<svg style="position:absolute;left:199.3px;top:1240.3px" width="17" height="17" viewBox="0 0 24 24"><path d="M12,1.5 L15.1,8.2 L22.5,9 L17,14 L18.5,21.3 L12,17.6 L5.5,21.3 L7,14 L1.5,9 L8.9,8.2 Z" fill="#f79a0e" stroke="#f79a0e" stroke-width="1.5" stroke-linejoin="round"/></svg>
<svg style="position:absolute;left:219.0px;top:1240.3px" width="17" height="17" viewBox="0 0 24 24"><path d="M12,1.5 L15.1,8.2 L22.5,9 L17,14 L18.5,21.3 L12,17.6 L5.5,21.3 L7,14 L1.5,9 L8.9,8.2 Z" fill="#f79a0e" stroke="#f79a0e" stroke-width="1.5" stroke-linejoin="round"/></svg>
<svg style="position:absolute;left:238.7px;top:1240.3px" width="17" height="17" viewBox="0 0 24 24"><path d="M12,1.5 L15.1,8.2 L22.5,9 L17,14 L18.5,21.3 L12,17.6 L5.5,21.3 L7,14 L1.5,9 L8.9,8.2 Z" fill="#f79a0e" stroke="#f79a0e" stroke-width="1.5" stroke-linejoin="round"/></svg>
<svg style="position:absolute;left:258.4px;top:1240.3px" width="17" height="17" viewBox="0 0 24 24"><path d="M12,1.5 L15.1,8.2 L22.5,9 L17,14 L18.5,21.3 L12,17.6 L5.5,21.3 L7,14 L1.5,9 L8.9,8.2 Z" fill="#f79a0e" stroke="#f79a0e" stroke-width="1.5" stroke-linejoin="round"/></svg>
<div style="position:absolute;left:96.0px;top:1288.1px;width:896.0px;height:1.5px;background:#eceef1;border-radius:0px;"></div>
<div style="position:absolute;left:928.0px;top:1301.5px;width:52.0px;height:52.0px;background:#f3f3f4;border-radius:14px;"></div>
<svg style="position:absolute;left:940px;top:1311.0px" width="28" height="32" viewBox="0 0 28 32"><rect x="6" y="8.4" width="16" height="2.3" fill="#253349"/><path d="M8,8.4 C8,5 9.6,2.8 11.8,2.2 V8.4 Z" fill="#253349"/><path d="M20,8.4 C20,5 18.4,2.8 16.2,2.2 V8.4 Z" fill="#253349"/><rect x="12.6" y="0.8" width="2.8" height="7.8" fill="#253349"/><path d="M9.4,12 A4.8,4.8 0 0 0 19,12" fill="none" stroke="#253349" stroke-width="3"/><path d="M2.5,29.6 V27.5 C2.5,23.5 8,21.4 14,21.4 C20,21.4 25.5,23.5 25.5,27.5 V29.6 Z" fill="none" stroke="#253349" stroke-width="3"/></svg>
<div id="t93" class="t" style="right:2616.0px;top:1314.6px;font-size:22.0px;line-height:22.0px;color:#3b4453;font-weight:normal;transform:scaleX(0.9156);transform-origin:right center;">عبدالله علي</div>
<div id="t94" class="t" style="right:2834.4px;top:1314.6px;font-size:22.0px;line-height:22.0px;color:#3b4453;font-weight:normal;transform:scaleX(0.9077);transform-origin:right center;">الرياض</div>
<div id="t95" class="t" style="right:3034.5px;top:1313.4px;font-size:21.8px;line-height:21.8px;color:#3b4453;font-weight:normal;transform:scaleX(0.9588);transform-origin:right center;">1,860</div>
<svg style="position:absolute;left:179.6px;top:1318.5px" width="17" height="17" viewBox="0 0 24 24"><path d="M12,2.5 L14.9,8.6 L21.5,9.3 L16.6,13.8 L18,20.4 L12,17 L6,20.4 L7.4,13.8 L2.5,9.3 L9.1,8.6 Z" fill="none" stroke="#c6cbd6" stroke-width="3.2" stroke-linejoin="round"/></svg>
<svg style="position:absolute;left:199.3px;top:1318.5px" width="17" height="17" viewBox="0 0 24 24"><path d="M12,1.5 L15.1,8.2 L22.5,9 L17,14 L18.5,21.3 L12,17.6 L5.5,21.3 L7,14 L1.5,9 L8.9,8.2 Z" fill="#f79a0e" stroke="#f79a0e" stroke-width="1.5" stroke-linejoin="round"/></svg>
<svg style="position:absolute;left:219.0px;top:1318.5px" width="17" height="17" viewBox="0 0 24 24"><path d="M12,1.5 L15.1,8.2 L22.5,9 L17,14 L18.5,21.3 L12,17.6 L5.5,21.3 L7,14 L1.5,9 L8.9,8.2 Z" fill="#f79a0e" stroke="#f79a0e" stroke-width="1.5" stroke-linejoin="round"/></svg>
<svg style="position:absolute;left:238.7px;top:1318.5px" width="17" height="17" viewBox="0 0 24 24"><path d="M12,1.5 L15.1,8.2 L22.5,9 L17,14 L18.5,21.3 L12,17.6 L5.5,21.3 L7,14 L1.5,9 L8.9,8.2 Z" fill="#f79a0e" stroke="#f79a0e" stroke-width="1.5" stroke-linejoin="round"/></svg>
<svg style="position:absolute;left:258.4px;top:1318.5px" width="17" height="17" viewBox="0 0 24 24"><path d="M12,1.5 L15.1,8.2 L22.5,9 L17,14 L18.5,21.3 L12,17.6 L5.5,21.3 L7,14 L1.5,9 L8.9,8.2 Z" fill="#f79a0e" stroke="#f79a0e" stroke-width="1.5" stroke-linejoin="round"/></svg>
<div style="position:absolute;left:96.0px;top:1366.3px;width:896.0px;height:1.5px;background:#eceef1;border-radius:0px;"></div>
<div style="position:absolute;left:928.0px;top:1379.7px;width:52.0px;height:52.0px;background:#f3f3f4;border-radius:14px;"></div>
<svg style="position:absolute;left:940px;top:1389.2px" width="28" height="32" viewBox="0 0 28 32"><rect x="6" y="8.4" width="16" height="2.3" fill="#253349"/><path d="M8,8.4 C8,5 9.6,2.8 11.8,2.2 V8.4 Z" fill="#253349"/><path d="M20,8.4 C20,5 18.4,2.8 16.2,2.2 V8.4 Z" fill="#253349"/><rect x="12.6" y="0.8" width="2.8" height="7.8" fill="#253349"/><path d="M9.4,12 A4.8,4.8 0 0 0 19,12" fill="none" stroke="#253349" stroke-width="3"/><path d="M2.5,29.6 V27.5 C2.5,23.5 8,21.4 14,21.4 C20,21.4 25.5,23.5 25.5,27.5 V29.6 Z" fill="none" stroke="#253349" stroke-width="3"/></svg>
<div id="t96" class="t" style="right:2616.0px;top:1392.8px;font-size:22.0px;line-height:22.0px;color:#3b4453;font-weight:normal;transform:scaleX(0.9156);transform-origin:right center;">عبدالله علي</div>
<div id="t97" class="t" style="right:2834.4px;top:1392.8px;font-size:22.0px;line-height:22.0px;color:#3b4453;font-weight:normal;transform:scaleX(0.9077);transform-origin:right center;">الرياض</div>
<div id="t98" class="t" style="right:3034.5px;top:1391.6px;font-size:21.8px;line-height:21.8px;color:#3b4453;font-weight:normal;transform:scaleX(0.9588);transform-origin:right center;">1,860</div>
<svg style="position:absolute;left:179.6px;top:1396.7px" width="17" height="17" viewBox="0 0 24 24"><path d="M12,2.5 L14.9,8.6 L21.5,9.3 L16.6,13.8 L18,20.4 L12,17 L6,20.4 L7.4,13.8 L2.5,9.3 L9.1,8.6 Z" fill="none" stroke="#c6cbd6" stroke-width="3.2" stroke-linejoin="round"/></svg>
<svg style="position:absolute;left:199.3px;top:1396.7px" width="17" height="17" viewBox="0 0 24 24"><path d="M12,1.5 L15.1,8.2 L22.5,9 L17,14 L18.5,21.3 L12,17.6 L5.5,21.3 L7,14 L1.5,9 L8.9,8.2 Z" fill="#f79a0e" stroke="#f79a0e" stroke-width="1.5" stroke-linejoin="round"/></svg>
<svg style="position:absolute;left:219.0px;top:1396.7px" width="17" height="17" viewBox="0 0 24 24"><path d="M12,1.5 L15.1,8.2 L22.5,9 L17,14 L18.5,21.3 L12,17.6 L5.5,21.3 L7,14 L1.5,9 L8.9,8.2 Z" fill="#f79a0e" stroke="#f79a0e" stroke-width="1.5" stroke-linejoin="round"/></svg>
<svg style="position:absolute;left:238.7px;top:1396.7px" width="17" height="17" viewBox="0 0 24 24"><path d="M12,1.5 L15.1,8.2 L22.5,9 L17,14 L18.5,21.3 L12,17.6 L5.5,21.3 L7,14 L1.5,9 L8.9,8.2 Z" fill="#f79a0e" stroke="#f79a0e" stroke-width="1.5" stroke-linejoin="round"/></svg>
<svg style="position:absolute;left:258.4px;top:1396.7px" width="17" height="17" viewBox="0 0 24 24"><path d="M12,1.5 L15.1,8.2 L22.5,9 L17,14 L18.5,21.3 L12,17.6 L5.5,21.3 L7,14 L1.5,9 L8.9,8.2 Z" fill="#f79a0e" stroke="#f79a0e" stroke-width="1.5" stroke-linejoin="round"/></svg>
<div style="position:absolute;left:96.0px;top:1444.5px;width:896.0px;height:1.5px;background:#eceef1;border-radius:0px;"></div>
<div id="t99" class="t" style="right:2540.0px;top:1462.1px;font-size:22.0px;line-height:22.0px;color:#ec7a56;font-weight:bold;transform:scaleX(1.0602);transform-origin:right center;">عرض المزيد</div>
<div style="position:absolute;left:871.0px;top:1489.5px;width:121.0px;height:2.0px;background:#ec7a56;border-radius:0px;"></div>
<div style="position:absolute;left:2619px;top:1428px;width:833px;height:702px;background:#fff;border-radius:20px;box-shadow:0 0 70px rgba(20,20,60,0.07)"></div>
<div id="t100" class="t" style="right:110.4px;top:1458.1px;font-size:30.0px;line-height:30.0px;color:#1e1a5c;font-weight:bold;transform:scaleX(0.8772);transform-origin:right center;">أعلى شركات رسوم توصيل</div>
<div id="t101" class="t" style="right:111.0px;top:1518.3px;font-size:21.0px;line-height:21.0px;color:#5b6478;font-weight:normal;transform:scaleX(0.9488);transform-origin:right center;">اخر 6 ايام</div>
<div style="position:absolute;left:2648.0px;top:1475.0px;width:375.0px;height:58.0px;background:#f4f4f6;border-radius:14.592px;"></div>
<svg style="position:absolute;left:2982.9px;top:1489.4px" width="26.4" height="29.2" viewBox="0 0 30 32"><rect x="1.5" y="5" width="27" height="25.5" rx="2.5" fill="none" stroke="#4f5a75" stroke-width="3"/><line x1="1.5" y1="13" x2="28.5" y2="13" stroke="#4f5a75" stroke-width="3"/><line x1="8" y1="0" x2="8" y2="7" stroke="#4f5a75" stroke-width="3"/><line x1="22" y1="0" x2="22" y2="7" stroke="#4f5a75" stroke-width="3"/></svg>
<div id="t102" class="t" style="right:567.8px;top:1491.2px;font-size:21.4px;line-height:21.4px;color:#4f5a75;font-weight:normal;transform:scaleX(0.9964);transform-origin:right center;">11 مايو2020 الى 15 يناير 2024</div>
<svg style="position:absolute;left:2662.6px;top:1499.6px;overflow:visible" width="14.6" height="8.2" viewBox="0 0 16 9"><polyline points="1.5,1.5 8,7.5 14.5,1.5" fill="none" stroke="#4f5a75" stroke-width="3.0" stroke-linecap="round" stroke-linejoin="round"/></svg>
<div style="position:absolute;left:2648.0px;top:1566.0px;width:775.0px;height:49.0px;background:#f4f4f6;border-radius:8px;"></div>
<div id="t103" class="t" style="right:124.0px;top:1579.1px;font-size:22.0px;line-height:22.0px;color:#3b4453;font-weight:normal;transform:scaleX(0.9381);transform-origin:right center;">اسم التطبيق</div>
<div id="t104" class="t" style="right:590.0px;top:1579.1px;font-size:22.0px;line-height:22.0px;color:#3b4453;font-weight:normal;transform:scaleX(0.8873);transform-origin:right center;">متوسط الرسوم</div>
<svg style="position:absolute;left:3335.5px;top:1644.5px" width="73" height="73" viewBox="0 0 73 73"><rect x="0" y="0" width="73" height="72.5" rx="6" fill="#e01b2c"/><g fill="none" stroke="#fff" stroke-width="2.6" stroke-linecap="round"><path d="M8.6,30.8 H10.2 V42.5 Q10.2,46.2 6,46.2 H5.3"/><circle cx="22.2" cy="36.9" r="5.4"/><path d="M28.2,30.8 V43"/><path d="M32.3,26.2 V43 M32.3,36.5 Q32.3,31.8 36.4,31.8 Q40.4,31.8 40.4,36.5 V43"/><path d="M44.1,36.9 H54.6 A5.4,5.4 0 1 0 52.8,40.9"/><path d="M57.4,31.7 H67.6 L57.8,42.1 H68.6"/></g><circle cx="22.2" cy="36.9" r="2.6" fill="#f7941d"/></svg>
<div id="t105" class="t" style="right:212.0px;top:1665.1px;font-size:26.0px;line-height:26.0px;color:#3b4453;font-weight:normal;transform:scaleX(0.9582);transform-origin:right center;">تطبيق جاهز</div>
<div id="t106" class="t" style="right:590.0px;top:1665.1px;font-size:26.0px;line-height:26.0px;color:#3b4453;font-weight:normal;transform:scaleX(0.9165);transform-origin:right center;">80 ر.س</div>
<div style="position:absolute;left:2648.0px;top:1732.5px;width:775.0px;height:1.5px;background:#eceef1;border-radius:0px;"></div>
<svg style="position:absolute;left:3335.5px;top:1748.3px" width="73" height="73" viewBox="0 0 73 73"><rect x="0" y="0" width="73" height="72.5" rx="6" fill="#e01b2c"/><g fill="none" stroke="#fff" stroke-width="2.6" stroke-linecap="round"><path d="M8.6,30.8 H10.2 V42.5 Q10.2,46.2 6,46.2 H5.3"/><circle cx="22.2" cy="36.9" r="5.4"/><path d="M28.2,30.8 V43"/><path d="M32.3,26.2 V43 M32.3,36.5 Q32.3,31.8 36.4,31.8 Q40.4,31.8 40.4,36.5 V43"/><path d="M44.1,36.9 H54.6 A5.4,5.4 0 1 0 52.8,40.9"/><path d="M57.4,31.7 H67.6 L57.8,42.1 H68.6"/></g><circle cx="22.2" cy="36.9" r="2.6" fill="#f7941d"/></svg>
<div id="t107" class="t" style="right:212.0px;top:1768.9px;font-size:26.0px;line-height:26.0px;color:#3b4453;font-weight:normal;transform:scaleX(0.9582);transform-origin:right center;">تطبيق جاهز</div>
<div id="t108" class="t" style="right:590.0px;top:1768.9px;font-size:26.0px;line-height:26.0px;color:#3b4453;font-weight:normal;transform:scaleX(0.9165);transform-origin:right center;">80 ر.س</div>
<div style="position:absolute;left:2648.0px;top:1836.3px;width:775.0px;height:1.5px;background:#eceef1;border-radius:0px;"></div>
<svg style="position:absolute;left:3335.5px;top:1852.1px" width="73" height="73" viewBox="0 0 73 73"><rect x="0" y="0" width="73" height="72.5" rx="6" fill="#e01b2c"/><g fill="none" stroke="#fff" stroke-width="2.6" stroke-linecap="round"><path d="M8.6,30.8 H10.2 V42.5 Q10.2,46.2 6,46.2 H5.3"/><circle cx="22.2" cy="36.9" r="5.4"/><path d="M28.2,30.8 V43"/><path d="M32.3,26.2 V43 M32.3,36.5 Q32.3,31.8 36.4,31.8 Q40.4,31.8 40.4,36.5 V43"/><path d="M44.1,36.9 H54.6 A5.4,5.4 0 1 0 52.8,40.9"/><path d="M57.4,31.7 H67.6 L57.8,42.1 H68.6"/></g><circle cx="22.2" cy="36.9" r="2.6" fill="#f7941d"/></svg>
<div id="t109" class="t" style="right:212.0px;top:1872.7px;font-size:26.0px;line-height:26.0px;color:#3b4453;font-weight:normal;transform:scaleX(0.9582);transform-origin:right center;">تطبيق جاهز</div>
<div id="t110" class="t" style="right:590.0px;top:1872.7px;font-size:26.0px;line-height:26.0px;color:#3b4453;font-weight:normal;transform:scaleX(0.9165);transform-origin:right center;">80 ر.س</div>
<div style="position:absolute;left:2648.0px;top:1940.1px;width:775.0px;height:1.5px;background:#eceef1;border-radius:0px;"></div>
<svg style="position:absolute;left:3335.5px;top:1955.9px" width="73" height="73" viewBox="0 0 73 73"><rect x="0" y="0" width="73" height="72.5" rx="6" fill="#e01b2c"/><g fill="none" stroke="#fff" stroke-width="2.6" stroke-linecap="round"><path d="M8.6,30.8 H10.2 V42.5 Q10.2,46.2 6,46.2 H5.3"/><circle cx="22.2" cy="36.9" r="5.4"/><path d="M28.2,30.8 V43"/><path d="M32.3,26.2 V43 M32.3,36.5 Q32.3,31.8 36.4,31.8 Q40.4,31.8 40.4,36.5 V43"/><path d="M44.1,36.9 H54.6 A5.4,5.4 0 1 0 52.8,40.9"/><path d="M57.4,31.7 H67.6 L57.8,42.1 H68.6"/></g><circle cx="22.2" cy="36.9" r="2.6" fill="#f7941d"/></svg>
<div id="t111" class="t" style="right:212.0px;top:1976.5px;font-size:26.0px;line-height:26.0px;color:#3b4453;font-weight:normal;transform:scaleX(0.9582);transform-origin:right center;">تطبيق جاهز</div>
<div id="t112" class="t" style="right:590.0px;top:1976.5px;font-size:26.0px;line-height:26.0px;color:#3b4453;font-weight:normal;transform:scaleX(0.9165);transform-origin:right center;">80 ر.س</div>
<div style="position:absolute;left:2648.0px;top:2043.9px;width:775.0px;height:1.5px;background:#eceef1;border-radius:0px;"></div>
<div id="t113" class="t" style="right:111.0px;top:2063.5px;font-size:27.0px;line-height:27.0px;color:#ec7a56;font-weight:bold;transform:scaleX(0.9750);transform-origin:right center;">عرض المزيد</div>
<div style="position:absolute;left:3284.0px;top:2098.0px;width:137.0px;height:2.5px;background:#ec7a56;border-radius:0px;"></div>
</body></html>
